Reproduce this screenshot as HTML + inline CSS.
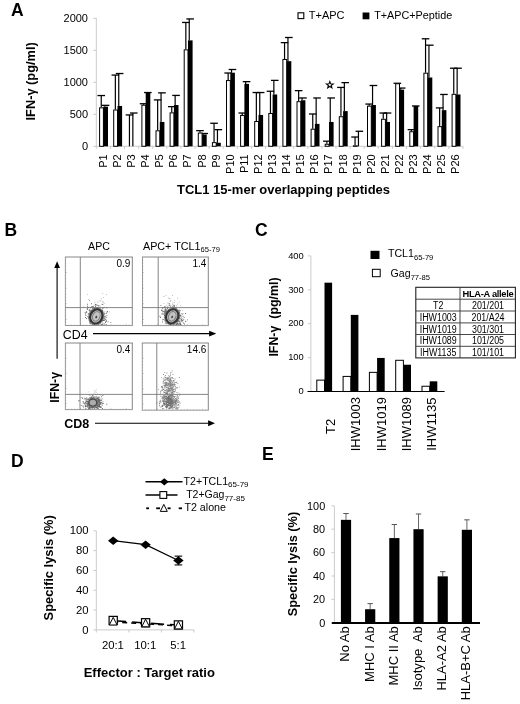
<!DOCTYPE html>
<html lang="en">
<head>
<meta charset="utf-8">
<title>Figure</title>
<style>
html,body{margin:0;padding:0;background:#fff;}
body{width:520px;height:704px;overflow:hidden;}
svg{display:block;font-family:'Liberation Sans', Arial, sans-serif;}
</style>
</head>
<body>
<svg width="520" height="704" viewBox="0 0 520 704" style="font-family:'Liberation Sans', Arial, sans-serif">
<rect x="0" y="0" width="520" height="704" fill="#fff"/>
<g id="panelA">
<text x="11.00" y="16.30" font-size="17.5" text-anchor="start" font-weight="bold" fill="#000">A</text>
<line x1="96.30" y1="18.00" x2="96.30" y2="146.30" stroke="#cbcbcb" stroke-width="1"/>
<line x1="93.30" y1="146.30" x2="96.30" y2="146.30" stroke="#cbcbcb" stroke-width="1"/>
<text x="88.00" y="150.20" font-size="11" text-anchor="end" fill="#000">0</text>
<line x1="93.30" y1="114.30" x2="96.30" y2="114.30" stroke="#cbcbcb" stroke-width="1"/>
<text x="88.00" y="118.20" font-size="11" text-anchor="end" fill="#000">500</text>
<line x1="93.30" y1="82.30" x2="96.30" y2="82.30" stroke="#cbcbcb" stroke-width="1"/>
<text x="88.00" y="86.20" font-size="11" text-anchor="end" fill="#000">1000</text>
<line x1="93.30" y1="50.30" x2="96.30" y2="50.30" stroke="#cbcbcb" stroke-width="1"/>
<text x="88.00" y="54.20" font-size="11" text-anchor="end" fill="#000">1500</text>
<line x1="93.30" y1="18.30" x2="96.30" y2="18.30" stroke="#cbcbcb" stroke-width="1"/>
<text x="88.00" y="22.20" font-size="11" text-anchor="end" fill="#000">2000</text>
<line x1="96.30" y1="146.30" x2="463.20" y2="146.30" stroke="#cbcbcb" stroke-width="1"/>
<line x1="96.30" y1="146.30" x2="96.30" y2="148.90" stroke="#cbcbcb" stroke-width="1"/>
<line x1="110.40" y1="146.30" x2="110.40" y2="148.90" stroke="#cbcbcb" stroke-width="1"/>
<line x1="124.50" y1="146.30" x2="124.50" y2="148.90" stroke="#cbcbcb" stroke-width="1"/>
<line x1="138.60" y1="146.30" x2="138.60" y2="148.90" stroke="#cbcbcb" stroke-width="1"/>
<line x1="152.70" y1="146.30" x2="152.70" y2="148.90" stroke="#cbcbcb" stroke-width="1"/>
<line x1="166.80" y1="146.30" x2="166.80" y2="148.90" stroke="#cbcbcb" stroke-width="1"/>
<line x1="180.90" y1="146.30" x2="180.90" y2="148.90" stroke="#cbcbcb" stroke-width="1"/>
<line x1="195.00" y1="146.30" x2="195.00" y2="148.90" stroke="#cbcbcb" stroke-width="1"/>
<line x1="209.10" y1="146.30" x2="209.10" y2="148.90" stroke="#cbcbcb" stroke-width="1"/>
<line x1="223.20" y1="146.30" x2="223.20" y2="148.90" stroke="#cbcbcb" stroke-width="1"/>
<line x1="237.30" y1="146.30" x2="237.30" y2="148.90" stroke="#cbcbcb" stroke-width="1"/>
<line x1="251.40" y1="146.30" x2="251.40" y2="148.90" stroke="#cbcbcb" stroke-width="1"/>
<line x1="265.50" y1="146.30" x2="265.50" y2="148.90" stroke="#cbcbcb" stroke-width="1"/>
<line x1="279.60" y1="146.30" x2="279.60" y2="148.90" stroke="#cbcbcb" stroke-width="1"/>
<line x1="293.70" y1="146.30" x2="293.70" y2="148.90" stroke="#cbcbcb" stroke-width="1"/>
<line x1="307.80" y1="146.30" x2="307.80" y2="148.90" stroke="#cbcbcb" stroke-width="1"/>
<line x1="321.90" y1="146.30" x2="321.90" y2="148.90" stroke="#cbcbcb" stroke-width="1"/>
<line x1="336.00" y1="146.30" x2="336.00" y2="148.90" stroke="#cbcbcb" stroke-width="1"/>
<line x1="350.10" y1="146.30" x2="350.10" y2="148.90" stroke="#cbcbcb" stroke-width="1"/>
<line x1="364.20" y1="146.30" x2="364.20" y2="148.90" stroke="#cbcbcb" stroke-width="1"/>
<line x1="378.30" y1="146.30" x2="378.30" y2="148.90" stroke="#cbcbcb" stroke-width="1"/>
<line x1="392.40" y1="146.30" x2="392.40" y2="148.90" stroke="#cbcbcb" stroke-width="1"/>
<line x1="406.50" y1="146.30" x2="406.50" y2="148.90" stroke="#cbcbcb" stroke-width="1"/>
<line x1="420.60" y1="146.30" x2="420.60" y2="148.90" stroke="#cbcbcb" stroke-width="1"/>
<line x1="434.70" y1="146.30" x2="434.70" y2="148.90" stroke="#cbcbcb" stroke-width="1"/>
<line x1="448.80" y1="146.30" x2="448.80" y2="148.90" stroke="#cbcbcb" stroke-width="1"/>
<line x1="462.90" y1="146.30" x2="462.90" y2="148.90" stroke="#cbcbcb" stroke-width="1"/>
<line x1="101.25" y1="95.55" x2="101.25" y2="107.32" stroke="#000" stroke-width="1.2"/>
<line x1="97.45" y1="95.55" x2="105.05" y2="95.55" stroke="#000" stroke-width="1.3"/>
<line x1="104.65" y1="105.34" x2="104.65" y2="106.62" stroke="#000" stroke-width="1.2"/>
<line x1="101.75" y1="105.34" x2="109.35" y2="105.34" stroke="#000" stroke-width="1.3"/>
<rect x="99.60" y="107.82" width="3.80" height="38.48" fill="#fff" stroke="#000" stroke-width="1"/>
<rect x="103.40" y="106.62" width="4.60" height="39.68" fill="#000"/>
<text x="106.90" y="154.30" font-size="11" text-anchor="end" transform="rotate(-90 106.90 154.30)" fill="#000">P1</text>
<line x1="115.35" y1="75.07" x2="115.35" y2="109.50" stroke="#000" stroke-width="1.2"/>
<line x1="111.55" y1="75.07" x2="119.15" y2="75.07" stroke="#000" stroke-width="1.3"/>
<line x1="118.75" y1="73.53" x2="118.75" y2="105.98" stroke="#000" stroke-width="1.2"/>
<line x1="115.85" y1="73.53" x2="123.45" y2="73.53" stroke="#000" stroke-width="1.3"/>
<rect x="113.70" y="110.00" width="3.80" height="36.30" fill="#fff" stroke="#000" stroke-width="1"/>
<rect x="117.50" y="105.98" width="4.60" height="40.32" fill="#000"/>
<text x="121.00" y="154.30" font-size="11" text-anchor="end" transform="rotate(-90 121.00 154.30)" fill="#000">P2</text>
<line x1="129.45" y1="114.94" x2="129.45" y2="146.30" stroke="#000" stroke-width="1.2"/>
<line x1="125.65" y1="114.94" x2="133.25" y2="114.94" stroke="#000" stroke-width="1.3"/>
<line x1="132.85" y1="113.02" x2="132.85" y2="146.30" stroke="#000" stroke-width="1.2"/>
<line x1="129.95" y1="113.02" x2="137.55" y2="113.02" stroke="#000" stroke-width="1.3"/>
<text x="135.10" y="154.30" font-size="11" text-anchor="end" transform="rotate(-90 135.10 154.30)" fill="#000">P3</text>
<line x1="143.55" y1="103.74" x2="143.55" y2="104.70" stroke="#000" stroke-width="1.2"/>
<line x1="139.75" y1="103.74" x2="147.35" y2="103.74" stroke="#000" stroke-width="1.3"/>
<line x1="144.05" y1="92.54" x2="151.65" y2="92.54" stroke="#000" stroke-width="1.3"/>
<rect x="141.90" y="105.20" width="3.80" height="41.10" fill="#fff" stroke="#000" stroke-width="1"/>
<rect x="145.70" y="92.54" width="4.60" height="53.76" fill="#000"/>
<text x="149.20" y="154.30" font-size="11" text-anchor="end" transform="rotate(-90 149.20 154.30)" fill="#000">P4</text>
<line x1="157.65" y1="99.90" x2="157.65" y2="130.30" stroke="#000" stroke-width="1.2"/>
<line x1="153.85" y1="99.90" x2="161.45" y2="99.90" stroke="#000" stroke-width="1.3"/>
<line x1="161.05" y1="92.86" x2="161.05" y2="121.98" stroke="#000" stroke-width="1.2"/>
<line x1="158.15" y1="92.86" x2="165.75" y2="92.86" stroke="#000" stroke-width="1.3"/>
<rect x="156.00" y="130.80" width="3.80" height="15.50" fill="#fff" stroke="#000" stroke-width="1"/>
<rect x="159.80" y="121.98" width="4.60" height="24.32" fill="#000"/>
<text x="163.30" y="154.30" font-size="11" text-anchor="end" transform="rotate(-90 163.30 154.30)" fill="#000">P5</text>
<line x1="171.75" y1="106.62" x2="171.75" y2="112.38" stroke="#000" stroke-width="1.2"/>
<line x1="167.95" y1="106.62" x2="175.55" y2="106.62" stroke="#000" stroke-width="1.3"/>
<line x1="175.15" y1="95.42" x2="175.15" y2="105.02" stroke="#000" stroke-width="1.2"/>
<line x1="172.25" y1="95.42" x2="179.85" y2="95.42" stroke="#000" stroke-width="1.3"/>
<rect x="170.10" y="112.88" width="3.80" height="33.42" fill="#fff" stroke="#000" stroke-width="1"/>
<rect x="173.90" y="105.02" width="4.60" height="41.28" fill="#000"/>
<text x="177.40" y="154.30" font-size="11" text-anchor="end" transform="rotate(-90 177.40 154.30)" fill="#000">P6</text>
<line x1="185.85" y1="22.46" x2="185.85" y2="49.34" stroke="#000" stroke-width="1.2"/>
<line x1="182.05" y1="22.46" x2="189.65" y2="22.46" stroke="#000" stroke-width="1.3"/>
<line x1="189.25" y1="18.94" x2="189.25" y2="40.38" stroke="#000" stroke-width="1.2"/>
<line x1="186.35" y1="18.94" x2="193.95" y2="18.94" stroke="#000" stroke-width="1.3"/>
<rect x="184.20" y="49.84" width="3.80" height="96.46" fill="#fff" stroke="#000" stroke-width="1"/>
<rect x="188.00" y="40.38" width="4.60" height="105.92" fill="#000"/>
<text x="191.50" y="154.30" font-size="11" text-anchor="end" transform="rotate(-90 191.50 154.30)" fill="#000">P7</text>
<line x1="199.95" y1="130.62" x2="199.95" y2="132.54" stroke="#000" stroke-width="1.2"/>
<line x1="196.15" y1="130.62" x2="203.75" y2="130.62" stroke="#000" stroke-width="1.3"/>
<line x1="203.35" y1="133.50" x2="203.35" y2="134.46" stroke="#000" stroke-width="1.2"/>
<line x1="200.45" y1="133.50" x2="208.05" y2="133.50" stroke="#000" stroke-width="1.3"/>
<rect x="198.30" y="133.04" width="3.80" height="13.26" fill="#fff" stroke="#000" stroke-width="1"/>
<rect x="202.10" y="134.46" width="4.60" height="11.84" fill="#000"/>
<text x="205.60" y="154.30" font-size="11" text-anchor="end" transform="rotate(-90 205.60 154.30)" fill="#000">P8</text>
<line x1="214.05" y1="123.26" x2="214.05" y2="142.14" stroke="#000" stroke-width="1.2"/>
<line x1="210.25" y1="123.26" x2="217.85" y2="123.26" stroke="#000" stroke-width="1.3"/>
<line x1="217.45" y1="129.66" x2="217.45" y2="142.78" stroke="#000" stroke-width="1.2"/>
<line x1="214.55" y1="129.66" x2="222.15" y2="129.66" stroke="#000" stroke-width="1.3"/>
<rect x="212.40" y="142.64" width="3.80" height="3.66" fill="#fff" stroke="#000" stroke-width="1"/>
<rect x="216.20" y="142.78" width="4.60" height="3.52" fill="#000"/>
<text x="219.70" y="154.30" font-size="11" text-anchor="end" transform="rotate(-90 219.70 154.30)" fill="#000">P9</text>
<line x1="228.15" y1="73.02" x2="228.15" y2="80.06" stroke="#000" stroke-width="1.2"/>
<line x1="224.35" y1="73.02" x2="231.95" y2="73.02" stroke="#000" stroke-width="1.3"/>
<line x1="231.55" y1="69.50" x2="231.55" y2="72.70" stroke="#000" stroke-width="1.2"/>
<line x1="228.65" y1="69.50" x2="236.25" y2="69.50" stroke="#000" stroke-width="1.3"/>
<rect x="226.50" y="80.56" width="3.80" height="65.74" fill="#fff" stroke="#000" stroke-width="1"/>
<rect x="230.30" y="72.70" width="4.60" height="73.60" fill="#000"/>
<text x="233.80" y="154.30" font-size="11" text-anchor="end" transform="rotate(-90 233.80 154.30)" fill="#000">P10</text>
<line x1="242.25" y1="113.02" x2="242.25" y2="114.94" stroke="#000" stroke-width="1.2"/>
<line x1="238.45" y1="113.02" x2="246.05" y2="113.02" stroke="#000" stroke-width="1.3"/>
<line x1="245.65" y1="81.66" x2="245.65" y2="83.90" stroke="#000" stroke-width="1.2"/>
<line x1="242.75" y1="81.66" x2="250.35" y2="81.66" stroke="#000" stroke-width="1.3"/>
<rect x="240.60" y="115.44" width="3.80" height="30.86" fill="#fff" stroke="#000" stroke-width="1"/>
<rect x="244.40" y="83.90" width="4.60" height="62.40" fill="#000"/>
<text x="247.90" y="154.30" font-size="11" text-anchor="end" transform="rotate(-90 247.90 154.30)" fill="#000">P11</text>
<line x1="256.35" y1="92.54" x2="256.35" y2="121.02" stroke="#000" stroke-width="1.2"/>
<line x1="252.55" y1="92.54" x2="260.15" y2="92.54" stroke="#000" stroke-width="1.3"/>
<line x1="259.75" y1="92.54" x2="259.75" y2="114.94" stroke="#000" stroke-width="1.2"/>
<line x1="256.85" y1="92.54" x2="264.45" y2="92.54" stroke="#000" stroke-width="1.3"/>
<rect x="254.70" y="121.52" width="3.80" height="24.78" fill="#fff" stroke="#000" stroke-width="1"/>
<rect x="258.50" y="114.94" width="4.60" height="31.36" fill="#000"/>
<text x="262.00" y="154.30" font-size="11" text-anchor="end" transform="rotate(-90 262.00 154.30)" fill="#000">P12</text>
<line x1="270.45" y1="91.26" x2="270.45" y2="113.02" stroke="#000" stroke-width="1.2"/>
<line x1="266.65" y1="91.26" x2="274.25" y2="91.26" stroke="#000" stroke-width="1.3"/>
<line x1="273.85" y1="80.38" x2="273.85" y2="94.46" stroke="#000" stroke-width="1.2"/>
<line x1="270.95" y1="80.38" x2="278.55" y2="80.38" stroke="#000" stroke-width="1.3"/>
<rect x="268.80" y="113.52" width="3.80" height="32.78" fill="#fff" stroke="#000" stroke-width="1"/>
<rect x="272.60" y="94.46" width="4.60" height="51.84" fill="#000"/>
<text x="276.10" y="154.30" font-size="11" text-anchor="end" transform="rotate(-90 276.10 154.30)" fill="#000">P13</text>
<line x1="284.55" y1="42.62" x2="284.55" y2="58.94" stroke="#000" stroke-width="1.2"/>
<line x1="280.75" y1="42.62" x2="288.35" y2="42.62" stroke="#000" stroke-width="1.3"/>
<line x1="287.95" y1="37.50" x2="287.95" y2="61.18" stroke="#000" stroke-width="1.2"/>
<line x1="285.05" y1="37.50" x2="292.65" y2="37.50" stroke="#000" stroke-width="1.3"/>
<rect x="282.90" y="59.44" width="3.80" height="86.86" fill="#fff" stroke="#000" stroke-width="1"/>
<rect x="286.70" y="61.18" width="4.60" height="85.12" fill="#000"/>
<text x="290.20" y="154.30" font-size="11" text-anchor="end" transform="rotate(-90 290.20 154.30)" fill="#000">P14</text>
<line x1="298.65" y1="90.62" x2="298.65" y2="101.18" stroke="#000" stroke-width="1.2"/>
<line x1="294.85" y1="90.62" x2="302.45" y2="90.62" stroke="#000" stroke-width="1.3"/>
<line x1="302.05" y1="97.98" x2="302.05" y2="100.22" stroke="#000" stroke-width="1.2"/>
<line x1="299.15" y1="97.98" x2="306.75" y2="97.98" stroke="#000" stroke-width="1.3"/>
<rect x="297.00" y="101.68" width="3.80" height="44.62" fill="#fff" stroke="#000" stroke-width="1"/>
<rect x="300.80" y="100.22" width="4.60" height="46.08" fill="#000"/>
<text x="304.30" y="154.30" font-size="11" text-anchor="end" transform="rotate(-90 304.30 154.30)" fill="#000">P15</text>
<line x1="312.75" y1="113.98" x2="312.75" y2="128.70" stroke="#000" stroke-width="1.2"/>
<line x1="308.95" y1="113.98" x2="316.55" y2="113.98" stroke="#000" stroke-width="1.3"/>
<line x1="316.15" y1="97.98" x2="316.15" y2="123.90" stroke="#000" stroke-width="1.2"/>
<line x1="313.25" y1="97.98" x2="320.85" y2="97.98" stroke="#000" stroke-width="1.3"/>
<rect x="311.10" y="129.20" width="3.80" height="17.10" fill="#fff" stroke="#000" stroke-width="1"/>
<rect x="314.90" y="123.90" width="4.60" height="22.40" fill="#000"/>
<text x="318.40" y="154.30" font-size="11" text-anchor="end" transform="rotate(-90 318.40 154.30)" fill="#000">P16</text>
<line x1="326.85" y1="141.18" x2="326.85" y2="143.74" stroke="#000" stroke-width="1.2"/>
<line x1="323.05" y1="141.18" x2="330.65" y2="141.18" stroke="#000" stroke-width="1.3"/>
<line x1="330.25" y1="97.98" x2="330.25" y2="121.98" stroke="#000" stroke-width="1.2"/>
<line x1="327.35" y1="97.98" x2="334.95" y2="97.98" stroke="#000" stroke-width="1.3"/>
<rect x="325.20" y="144.24" width="3.80" height="2.06" fill="#fff" stroke="#000" stroke-width="1"/>
<rect x="329.00" y="121.98" width="4.60" height="24.32" fill="#000"/>
<text x="332.50" y="154.30" font-size="11" text-anchor="end" transform="rotate(-90 332.50 154.30)" fill="#000">P17</text>
<line x1="340.95" y1="87.42" x2="340.95" y2="116.22" stroke="#000" stroke-width="1.2"/>
<line x1="337.15" y1="87.42" x2="344.75" y2="87.42" stroke="#000" stroke-width="1.3"/>
<line x1="344.35" y1="82.62" x2="344.35" y2="111.10" stroke="#000" stroke-width="1.2"/>
<line x1="341.45" y1="82.62" x2="349.05" y2="82.62" stroke="#000" stroke-width="1.3"/>
<rect x="339.30" y="116.72" width="3.80" height="29.58" fill="#fff" stroke="#000" stroke-width="1"/>
<rect x="343.10" y="111.10" width="4.60" height="35.20" fill="#000"/>
<text x="346.60" y="154.30" font-size="11" text-anchor="end" transform="rotate(-90 346.60 154.30)" fill="#000">P18</text>
<line x1="355.05" y1="137.02" x2="355.05" y2="145.34" stroke="#000" stroke-width="1.2"/>
<line x1="351.25" y1="137.02" x2="358.85" y2="137.02" stroke="#000" stroke-width="1.3"/>
<line x1="358.45" y1="131.26" x2="358.45" y2="146.30" stroke="#000" stroke-width="1.2"/>
<line x1="355.55" y1="131.26" x2="363.15" y2="131.26" stroke="#000" stroke-width="1.3"/>
<rect x="353.40" y="145.84" width="3.80" height="0.46" fill="#fff" stroke="#000" stroke-width="1"/>
<text x="360.70" y="154.30" font-size="11" text-anchor="end" transform="rotate(-90 360.70 154.30)" fill="#000">P19</text>
<line x1="369.15" y1="104.06" x2="369.15" y2="105.66" stroke="#000" stroke-width="1.2"/>
<line x1="365.35" y1="104.06" x2="372.95" y2="104.06" stroke="#000" stroke-width="1.3"/>
<line x1="372.55" y1="85.50" x2="372.55" y2="105.02" stroke="#000" stroke-width="1.2"/>
<line x1="369.65" y1="85.50" x2="377.25" y2="85.50" stroke="#000" stroke-width="1.3"/>
<rect x="367.50" y="106.16" width="3.80" height="40.14" fill="#fff" stroke="#000" stroke-width="1"/>
<rect x="371.30" y="105.02" width="4.60" height="41.28" fill="#000"/>
<text x="374.80" y="154.30" font-size="11" text-anchor="end" transform="rotate(-90 374.80 154.30)" fill="#000">P20</text>
<line x1="383.25" y1="113.02" x2="383.25" y2="118.78" stroke="#000" stroke-width="1.2"/>
<line x1="379.45" y1="113.02" x2="387.05" y2="113.02" stroke="#000" stroke-width="1.3"/>
<line x1="386.65" y1="113.02" x2="386.65" y2="121.98" stroke="#000" stroke-width="1.2"/>
<line x1="383.75" y1="113.02" x2="391.35" y2="113.02" stroke="#000" stroke-width="1.3"/>
<rect x="381.60" y="119.28" width="3.80" height="27.02" fill="#fff" stroke="#000" stroke-width="1"/>
<rect x="385.40" y="121.98" width="4.60" height="24.32" fill="#000"/>
<text x="388.90" y="154.30" font-size="11" text-anchor="end" transform="rotate(-90 388.90 154.30)" fill="#000">P21</text>
<line x1="393.55" y1="83.26" x2="401.15" y2="83.26" stroke="#000" stroke-width="1.3"/>
<line x1="400.75" y1="88.06" x2="400.75" y2="89.66" stroke="#000" stroke-width="1.2"/>
<line x1="397.85" y1="88.06" x2="405.45" y2="88.06" stroke="#000" stroke-width="1.3"/>
<rect x="395.70" y="83.76" width="3.80" height="62.54" fill="#fff" stroke="#000" stroke-width="1"/>
<rect x="399.50" y="89.66" width="4.60" height="56.64" fill="#000"/>
<text x="403.00" y="154.30" font-size="11" text-anchor="end" transform="rotate(-90 403.00 154.30)" fill="#000">P22</text>
<line x1="411.45" y1="129.66" x2="411.45" y2="131.26" stroke="#000" stroke-width="1.2"/>
<line x1="407.65" y1="129.66" x2="415.25" y2="129.66" stroke="#000" stroke-width="1.3"/>
<line x1="411.95" y1="105.98" x2="419.55" y2="105.98" stroke="#000" stroke-width="1.3"/>
<rect x="409.80" y="131.76" width="3.80" height="14.54" fill="#fff" stroke="#000" stroke-width="1"/>
<rect x="413.60" y="105.98" width="4.60" height="40.32" fill="#000"/>
<text x="417.10" y="154.30" font-size="11" text-anchor="end" transform="rotate(-90 417.10 154.30)" fill="#000">P23</text>
<line x1="425.55" y1="38.78" x2="425.55" y2="72.70" stroke="#000" stroke-width="1.2"/>
<line x1="421.75" y1="38.78" x2="429.35" y2="38.78" stroke="#000" stroke-width="1.3"/>
<line x1="428.95" y1="45.18" x2="428.95" y2="77.50" stroke="#000" stroke-width="1.2"/>
<line x1="426.05" y1="45.18" x2="433.65" y2="45.18" stroke="#000" stroke-width="1.3"/>
<rect x="423.90" y="73.20" width="3.80" height="73.10" fill="#fff" stroke="#000" stroke-width="1"/>
<rect x="427.70" y="77.50" width="4.60" height="68.80" fill="#000"/>
<text x="431.20" y="154.30" font-size="11" text-anchor="end" transform="rotate(-90 431.20 154.30)" fill="#000">P24</text>
<line x1="439.65" y1="107.90" x2="439.65" y2="126.14" stroke="#000" stroke-width="1.2"/>
<line x1="435.85" y1="107.90" x2="443.45" y2="107.90" stroke="#000" stroke-width="1.3"/>
<line x1="443.05" y1="94.46" x2="443.05" y2="110.14" stroke="#000" stroke-width="1.2"/>
<line x1="440.15" y1="94.46" x2="447.75" y2="94.46" stroke="#000" stroke-width="1.3"/>
<rect x="438.00" y="126.64" width="3.80" height="19.66" fill="#fff" stroke="#000" stroke-width="1"/>
<rect x="441.80" y="110.14" width="4.60" height="36.16" fill="#000"/>
<text x="445.30" y="154.30" font-size="11" text-anchor="end" transform="rotate(-90 445.30 154.30)" fill="#000">P25</text>
<line x1="453.75" y1="68.22" x2="453.75" y2="93.82" stroke="#000" stroke-width="1.2"/>
<line x1="449.95" y1="68.22" x2="457.55" y2="68.22" stroke="#000" stroke-width="1.3"/>
<line x1="457.15" y1="68.22" x2="457.15" y2="94.46" stroke="#000" stroke-width="1.2"/>
<line x1="454.25" y1="68.22" x2="461.85" y2="68.22" stroke="#000" stroke-width="1.3"/>
<rect x="452.10" y="94.32" width="3.80" height="51.98" fill="#fff" stroke="#000" stroke-width="1"/>
<rect x="455.90" y="94.46" width="4.60" height="51.84" fill="#000"/>
<text x="459.40" y="154.30" font-size="11" text-anchor="end" transform="rotate(-90 459.40 154.30)" fill="#000">P26</text>
<polygon points="329.80,81.50 330.65,83.83 333.13,83.92 331.18,85.45 331.86,87.83 329.80,86.45 327.74,87.83 328.42,85.45 326.47,83.92 328.95,83.83" fill="#fff" stroke="#000" stroke-width="1.1" stroke-linejoin="miter"/>
<text x="35.40" y="81.40" font-size="12.8" text-anchor="middle" font-weight="bold" transform="rotate(-90 35.40 81.40)" fill="#000">IFN-&#947; (pg/ml)</text>
<text x="283.50" y="194.00" font-size="13" text-anchor="middle" font-weight="bold" fill="#000">TCL1 15-mer overlapping peptides</text>
<rect x="298.00" y="12.80" width="5.80" height="5.80" fill="#fff" stroke="#000" stroke-width="1.1"/>
<text x="308.80" y="19.30" font-size="11" text-anchor="start" fill="#000">T+APC</text>
<rect x="362.60" y="12.50" width="6.80" height="6.80" fill="#000"/>
<text x="374.20" y="19.30" font-size="10.8" text-anchor="start" fill="#000">T+APC+Peptide</text>
</g>
<g id="panelB">
<text x="4.50" y="236.00" font-size="17.5" text-anchor="start" font-weight="bold" fill="#000">B</text>
<text x="99.00" y="249.80" font-size="10.6" text-anchor="middle" fill="#000">APC</text>
<text x="143" y="249.8" font-size="10.75">APC+ TCL1<tspan font-size="7.6" dy="2.6">65-79</tspan></text>
<path d="M95.5 312.5h0.8v0.8h-0.8zM95.7 307.5h0.8v0.8h-0.8zM92.1 308.1h0.8v0.8h-0.8zM102.4 311.9h0.8v0.8h-0.8zM102.0 310.9h0.8v0.8h-0.8zM98.8 310.5h0.8v0.8h-0.8zM88.5 314.5h0.8v0.8h-0.8zM99.3 312.4h0.8v0.8h-0.8zM88.3 298.9h0.8v0.8h-0.8zM92.4 306.6h0.8v0.8h-0.8zM98.3 309.1h0.8v0.8h-0.8zM99.4 305.5h0.8v0.8h-0.8zM98.3 311.8h0.8v0.8h-0.8zM93.5 319.7h0.8v0.8h-0.8zM99.6 316.6h0.8v0.8h-0.8zM93.7 305.0h0.8v0.8h-0.8zM95.1 308.8h0.8v0.8h-0.8zM100.0 310.9h0.8v0.8h-0.8zM94.6 303.7h0.8v0.8h-0.8zM94.2 316.7h0.8v0.8h-0.8zM92.8 310.9h0.8v0.8h-0.8zM98.9 300.5h0.8v0.8h-0.8zM97.0 317.2h0.8v0.8h-0.8zM86.7 307.5h0.8v0.8h-0.8zM96.3 304.5h0.8v0.8h-0.8zM99.3 309.0h0.8v0.8h-0.8zM89.5 314.4h0.8v0.8h-0.8zM100.1 315.1h0.8v0.8h-0.8zM104.0 311.6h0.8v0.8h-0.8zM97.4 301.6h0.8v0.8h-0.8zM99.9 305.7h0.8v0.8h-0.8zM94.5 301.8h0.8v0.8h-0.8zM92.0 306.2h0.8v0.8h-0.8zM103.2 297.2h0.8v0.8h-0.8zM89.5 310.8h0.8v0.8h-0.8zM104.0 312.9h0.8v0.8h-0.8zM87.3 294.3h0.8v0.8h-0.8zM98.6 305.0h0.8v0.8h-0.8zM91.2 315.3h0.8v0.8h-0.8zM102.3 310.3h0.8v0.8h-0.8zM98.0 312.0h0.8v0.8h-0.8zM104.8 313.1h0.8v0.8h-0.8zM99.4 312.7h0.8v0.8h-0.8zM89.0 317.1h0.8v0.8h-0.8zM101.6 312.6h0.8v0.8h-0.8zM86.9 305.6h0.8v0.8h-0.8zM101.0 298.5h0.8v0.8h-0.8zM95.9 315.5h0.8v0.8h-0.8zM90.2 319.1h0.8v0.8h-0.8zM99.6 308.5h0.8v0.8h-0.8zM98.4 313.3h0.8v0.8h-0.8zM97.4 316.3h0.8v0.8h-0.8zM93.5 306.9h0.8v0.8h-0.8zM102.0 309.6h0.8v0.8h-0.8zM92.4 315.1h0.8v0.8h-0.8zM104.1 306.7h0.8v0.8h-0.8zM89.9 308.6h0.8v0.8h-0.8zM96.1 307.6h0.8v0.8h-0.8zM103.8 303.2h0.8v0.8h-0.8zM103.1 301.8h0.8v0.8h-0.8zM92.9 313.2h0.8v0.8h-0.8zM102.4 314.6h0.8v0.8h-0.8zM98.5 310.3h0.8v0.8h-0.8zM97.6 312.9h0.8v0.8h-0.8zM95.9 311.1h0.8v0.8h-0.8zM99.7 309.4h0.8v0.8h-0.8zM100.6 312.8h0.8v0.8h-0.8zM106.9 311.3h0.8v0.8h-0.8zM94.7 307.2h0.8v0.8h-0.8zM96.7 314.9h0.8v0.8h-0.8zM95.1 311.7h0.8v0.8h-0.8zM106.0 294.0h0.8v0.8h-0.8zM91.2 310.9h0.8v0.8h-0.8zM98.8 310.8h0.8v0.8h-0.8zM94.6 313.3h0.8v0.8h-0.8zM98.2 306.3h0.8v0.8h-0.8zM109.0 311.5h0.8v0.8h-0.8zM94.0 308.8h0.8v0.8h-0.8zM95.7 309.0h0.8v0.8h-0.8zM83.2 306.5h0.8v0.8h-0.8zM101.8 302.4h0.8v0.8h-0.8zM96.5 315.1h0.8v0.8h-0.8zM101.1 318.3h0.8v0.8h-0.8zM88.3 307.3h0.8v0.8h-0.8zM95.1 313.1h0.8v0.8h-0.8zM102.3 293.3h0.8v0.8h-0.8zM102.2 300.7h0.8v0.8h-0.8zM100.2 300.4h0.8v0.8h-0.8zM97.7 316.6h0.8v0.8h-0.8zM96.1 310.5h0.8v0.8h-0.8z" fill="#8a8a8a" fill-opacity="0.8"/>
<path d="M100.2 317.1h0.9v0.9h-0.9zM98.3 323.8h0.9v0.9h-0.9zM100.7 315.0h0.9v0.9h-0.9zM107.1 310.9h0.9v0.9h-0.9zM100.1 315.1h0.9v0.9h-0.9zM98.0 319.8h0.9v0.9h-0.9zM98.3 319.5h0.9v0.9h-0.9zM86.9 309.2h0.9v0.9h-0.9zM97.6 311.8h0.9v0.9h-0.9zM89.2 309.3h0.9v0.9h-0.9zM103.3 320.0h0.9v0.9h-0.9zM101.6 311.9h0.9v0.9h-0.9zM94.5 310.9h0.9v0.9h-0.9zM102.4 324.0h0.9v0.9h-0.9zM94.7 323.9h0.9v0.9h-0.9zM100.6 315.5h0.9v0.9h-0.9zM89.5 323.2h0.9v0.9h-0.9zM94.9 313.5h0.9v0.9h-0.9zM98.8 318.4h0.9v0.9h-0.9zM101.6 311.5h0.9v0.9h-0.9zM103.9 323.5h0.9v0.9h-0.9zM102.7 315.5h0.9v0.9h-0.9zM94.5 321.3h0.9v0.9h-0.9zM97.0 317.0h0.9v0.9h-0.9zM102.4 315.1h0.9v0.9h-0.9zM85.1 314.5h0.9v0.9h-0.9zM89.1 320.3h0.9v0.9h-0.9zM96.8 313.5h0.9v0.9h-0.9zM97.6 320.4h0.9v0.9h-0.9zM98.8 322.8h0.9v0.9h-0.9zM97.7 321.4h0.9v0.9h-0.9zM105.7 324.1h0.9v0.9h-0.9zM94.6 320.6h0.9v0.9h-0.9zM85.9 311.2h0.9v0.9h-0.9zM89.0 321.5h0.9v0.9h-0.9zM90.6 316.3h0.9v0.9h-0.9zM95.4 316.3h0.9v0.9h-0.9zM94.0 317.5h0.9v0.9h-0.9zM104.6 316.6h0.9v0.9h-0.9zM100.3 321.2h0.9v0.9h-0.9zM93.4 310.4h0.9v0.9h-0.9zM95.5 321.6h0.9v0.9h-0.9zM87.8 313.5h0.9v0.9h-0.9zM102.2 320.2h0.9v0.9h-0.9zM97.6 320.3h0.9v0.9h-0.9zM95.2 310.7h0.9v0.9h-0.9zM88.1 313.3h0.9v0.9h-0.9zM99.6 313.7h0.9v0.9h-0.9zM90.9 312.7h0.9v0.9h-0.9zM89.1 315.8h0.9v0.9h-0.9zM91.5 318.1h0.9v0.9h-0.9zM86.0 318.0h0.9v0.9h-0.9zM90.2 307.1h0.9v0.9h-0.9zM99.2 315.1h0.9v0.9h-0.9zM84.6 312.2h0.9v0.9h-0.9zM96.9 314.2h0.9v0.9h-0.9zM101.1 320.0h0.9v0.9h-0.9zM99.9 318.0h0.9v0.9h-0.9zM103.5 319.6h0.9v0.9h-0.9zM95.0 306.4h0.9v0.9h-0.9zM102.5 322.7h0.9v0.9h-0.9zM94.2 314.1h0.9v0.9h-0.9zM102.4 308.0h0.9v0.9h-0.9zM93.1 319.7h0.9v0.9h-0.9zM104.8 315.8h0.9v0.9h-0.9zM100.3 320.7h0.9v0.9h-0.9zM92.0 316.0h0.9v0.9h-0.9zM99.0 320.4h0.9v0.9h-0.9zM95.8 315.5h0.9v0.9h-0.9zM91.1 314.7h0.9v0.9h-0.9zM100.6 316.9h0.9v0.9h-0.9zM91.0 312.4h0.9v0.9h-0.9zM110.4 321.9h0.9v0.9h-0.9zM95.1 304.0h0.9v0.9h-0.9zM99.9 318.7h0.9v0.9h-0.9zM104.7 318.5h0.9v0.9h-0.9zM96.8 318.9h0.9v0.9h-0.9zM89.0 321.4h0.9v0.9h-0.9zM96.7 313.0h0.9v0.9h-0.9zM88.8 313.2h0.9v0.9h-0.9zM97.9 317.3h0.9v0.9h-0.9zM92.9 311.7h0.9v0.9h-0.9zM107.7 321.4h0.9v0.9h-0.9zM88.7 309.9h0.9v0.9h-0.9zM105.7 321.1h0.9v0.9h-0.9zM106.0 320.3h0.9v0.9h-0.9zM92.7 317.7h0.9v0.9h-0.9zM85.2 312.8h0.9v0.9h-0.9zM96.9 318.9h0.9v0.9h-0.9zM92.8 315.8h0.9v0.9h-0.9zM99.0 318.2h0.9v0.9h-0.9zM99.6 317.4h0.9v0.9h-0.9zM96.1 320.2h0.9v0.9h-0.9zM95.2 312.4h0.9v0.9h-0.9zM93.4 316.4h0.9v0.9h-0.9zM96.0 317.2h0.9v0.9h-0.9zM96.6 317.2h0.9v0.9h-0.9zM93.7 310.4h0.9v0.9h-0.9zM99.9 321.5h0.9v0.9h-0.9zM98.0 315.5h0.9v0.9h-0.9zM96.8 311.8h0.9v0.9h-0.9zM87.7 316.7h0.9v0.9h-0.9zM93.2 320.0h0.9v0.9h-0.9zM87.1 303.8h0.9v0.9h-0.9zM94.0 324.0h0.9v0.9h-0.9zM92.4 309.8h0.9v0.9h-0.9zM93.6 318.9h0.9v0.9h-0.9zM98.9 317.2h0.9v0.9h-0.9zM104.3 319.8h0.9v0.9h-0.9zM97.2 319.3h0.9v0.9h-0.9zM105.5 321.1h0.9v0.9h-0.9zM99.3 311.2h0.9v0.9h-0.9zM96.8 319.9h0.9v0.9h-0.9zM96.6 321.5h0.9v0.9h-0.9zM100.5 320.8h0.9v0.9h-0.9zM101.7 315.4h0.9v0.9h-0.9zM96.1 320.6h0.9v0.9h-0.9zM100.8 316.4h0.9v0.9h-0.9zM91.2 317.3h0.9v0.9h-0.9zM99.8 321.8h0.9v0.9h-0.9zM99.9 316.5h0.9v0.9h-0.9zM101.1 319.0h0.9v0.9h-0.9zM97.3 316.7h0.9v0.9h-0.9zM96.3 319.7h0.9v0.9h-0.9zM90.4 313.4h0.9v0.9h-0.9zM94.0 309.4h0.9v0.9h-0.9zM91.1 306.8h0.9v0.9h-0.9zM94.1 319.1h0.9v0.9h-0.9zM98.8 316.1h0.9v0.9h-0.9zM93.0 309.6h0.9v0.9h-0.9zM105.5 318.9h0.9v0.9h-0.9zM99.9 312.2h0.9v0.9h-0.9zM92.5 307.7h0.9v0.9h-0.9zM101.4 320.9h0.9v0.9h-0.9zM87.5 316.1h0.9v0.9h-0.9zM96.4 307.9h0.9v0.9h-0.9zM86.2 311.3h0.9v0.9h-0.9zM91.2 309.7h0.9v0.9h-0.9zM96.8 317.6h0.9v0.9h-0.9zM100.3 319.8h0.9v0.9h-0.9zM105.1 322.0h0.9v0.9h-0.9zM89.5 314.0h0.9v0.9h-0.9zM89.7 311.2h0.9v0.9h-0.9zM95.9 316.4h0.9v0.9h-0.9zM96.0 308.8h0.9v0.9h-0.9zM90.6 316.3h0.9v0.9h-0.9zM94.9 314.9h0.9v0.9h-0.9zM94.8 312.8h0.9v0.9h-0.9zM100.1 318.1h0.9v0.9h-0.9zM94.8 313.2h0.9v0.9h-0.9zM91.1 303.3h0.9v0.9h-0.9zM91.8 316.6h0.9v0.9h-0.9zM89.7 317.4h0.9v0.9h-0.9zM94.8 309.8h0.9v0.9h-0.9zM94.6 314.9h0.9v0.9h-0.9zM99.4 319.3h0.9v0.9h-0.9zM94.8 312.3h0.9v0.9h-0.9zM95.5 316.1h0.9v0.9h-0.9zM100.1 317.8h0.9v0.9h-0.9zM90.8 309.9h0.9v0.9h-0.9zM93.4 312.8h0.9v0.9h-0.9zM91.0 315.8h0.9v0.9h-0.9zM94.2 316.9h0.9v0.9h-0.9zM98.0 314.4h0.9v0.9h-0.9zM106.5 314.9h0.9v0.9h-0.9zM101.6 317.0h0.9v0.9h-0.9zM97.6 305.0h0.9v0.9h-0.9zM93.2 317.6h0.9v0.9h-0.9zM99.8 322.5h0.9v0.9h-0.9zM101.3 320.9h0.9v0.9h-0.9zM98.4 315.7h0.9v0.9h-0.9zM96.9 311.2h0.9v0.9h-0.9zM100.1 311.5h0.9v0.9h-0.9zM95.3 316.5h0.9v0.9h-0.9zM101.7 316.5h0.9v0.9h-0.9zM93.0 317.6h0.9v0.9h-0.9zM100.1 319.8h0.9v0.9h-0.9zM104.0 316.5h0.9v0.9h-0.9zM96.8 314.3h0.9v0.9h-0.9zM101.7 313.0h0.9v0.9h-0.9zM98.6 314.1h0.9v0.9h-0.9zM94.3 319.8h0.9v0.9h-0.9zM102.4 316.4h0.9v0.9h-0.9zM94.5 320.3h0.9v0.9h-0.9zM96.6 317.9h0.9v0.9h-0.9zM105.1 321.8h0.9v0.9h-0.9zM97.6 320.2h0.9v0.9h-0.9zM93.3 316.2h0.9v0.9h-0.9zM100.6 310.6h0.9v0.9h-0.9zM86.8 308.6h0.9v0.9h-0.9zM101.0 314.2h0.9v0.9h-0.9zM95.5 314.9h0.9v0.9h-0.9zM94.0 311.2h0.9v0.9h-0.9zM94.1 309.5h0.9v0.9h-0.9zM96.5 317.9h0.9v0.9h-0.9zM98.1 315.3h0.9v0.9h-0.9zM92.4 317.2h0.9v0.9h-0.9zM96.6 323.9h0.9v0.9h-0.9zM99.6 315.8h0.9v0.9h-0.9zM93.0 313.0h0.9v0.9h-0.9zM91.4 314.7h0.9v0.9h-0.9zM98.5 318.9h0.9v0.9h-0.9zM93.1 316.5h0.9v0.9h-0.9zM106.2 307.4h0.9v0.9h-0.9zM94.2 317.2h0.9v0.9h-0.9zM97.7 318.4h0.9v0.9h-0.9zM95.8 318.2h0.9v0.9h-0.9zM97.8 320.1h0.9v0.9h-0.9zM86.2 312.2h0.9v0.9h-0.9zM94.6 311.4h0.9v0.9h-0.9zM92.5 319.4h0.9v0.9h-0.9zM94.3 319.4h0.9v0.9h-0.9zM100.2 317.9h0.9v0.9h-0.9zM98.5 315.9h0.9v0.9h-0.9zM89.8 316.3h0.9v0.9h-0.9zM97.5 313.9h0.9v0.9h-0.9zM97.0 320.0h0.9v0.9h-0.9zM93.3 319.5h0.9v0.9h-0.9zM104.0 313.7h0.9v0.9h-0.9zM96.7 315.7h0.9v0.9h-0.9zM103.9 317.9h0.9v0.9h-0.9zM99.3 313.1h0.9v0.9h-0.9zM96.2 316.4h0.9v0.9h-0.9zM90.4 323.3h0.9v0.9h-0.9zM97.6 308.0h0.9v0.9h-0.9zM99.5 315.8h0.9v0.9h-0.9zM98.9 318.2h0.9v0.9h-0.9zM89.1 315.4h0.9v0.9h-0.9zM102.2 313.6h0.9v0.9h-0.9zM89.4 309.9h0.9v0.9h-0.9zM91.2 318.0h0.9v0.9h-0.9zM104.8 318.5h0.9v0.9h-0.9zM92.8 313.2h0.9v0.9h-0.9zM99.6 319.0h0.9v0.9h-0.9zM89.8 310.8h0.9v0.9h-0.9zM98.0 317.6h0.9v0.9h-0.9zM90.0 315.4h0.9v0.9h-0.9zM94.5 318.6h0.9v0.9h-0.9zM95.6 316.0h0.9v0.9h-0.9zM96.4 321.5h0.9v0.9h-0.9zM102.1 314.6h0.9v0.9h-0.9zM99.0 312.8h0.9v0.9h-0.9zM97.8 320.0h0.9v0.9h-0.9zM102.7 314.6h0.9v0.9h-0.9zM96.3 317.3h0.9v0.9h-0.9zM89.4 316.5h0.9v0.9h-0.9zM93.8 318.2h0.9v0.9h-0.9zM87.9 306.9h0.9v0.9h-0.9zM96.9 317.7h0.9v0.9h-0.9zM95.2 320.7h0.9v0.9h-0.9zM94.1 313.5h0.9v0.9h-0.9zM96.0 308.9h0.9v0.9h-0.9zM93.2 316.3h0.9v0.9h-0.9zM99.9 315.6h0.9v0.9h-0.9zM96.7 313.3h0.9v0.9h-0.9zM100.3 324.4h0.9v0.9h-0.9zM93.4 316.5h0.9v0.9h-0.9zM98.7 321.3h0.9v0.9h-0.9zM87.2 306.3h0.9v0.9h-0.9zM100.4 320.2h0.9v0.9h-0.9zM97.6 317.6h0.9v0.9h-0.9zM101.2 318.2h0.9v0.9h-0.9zM102.0 310.5h0.9v0.9h-0.9zM89.1 299.9h0.9v0.9h-0.9zM99.4 314.6h0.9v0.9h-0.9zM95.9 315.2h0.9v0.9h-0.9zM92.7 312.4h0.9v0.9h-0.9zM94.4 319.5h0.9v0.9h-0.9zM96.6 316.7h0.9v0.9h-0.9zM97.0 320.8h0.9v0.9h-0.9zM98.3 315.7h0.9v0.9h-0.9zM99.1 315.7h0.9v0.9h-0.9zM93.3 323.4h0.9v0.9h-0.9zM96.9 311.8h0.9v0.9h-0.9zM101.8 318.1h0.9v0.9h-0.9zM91.7 324.1h0.9v0.9h-0.9zM99.3 320.7h0.9v0.9h-0.9zM97.0 315.7h0.9v0.9h-0.9zM90.7 321.1h0.9v0.9h-0.9zM96.0 315.0h0.9v0.9h-0.9zM98.0 316.8h0.9v0.9h-0.9zM98.8 314.6h0.9v0.9h-0.9zM92.7 306.1h0.9v0.9h-0.9zM95.4 319.6h0.9v0.9h-0.9zM101.9 314.7h0.9v0.9h-0.9zM98.3 324.0h0.9v0.9h-0.9zM96.0 319.9h0.9v0.9h-0.9zM104.1 316.6h0.9v0.9h-0.9zM100.8 313.0h0.9v0.9h-0.9zM97.1 316.0h0.9v0.9h-0.9zM98.6 321.8h0.9v0.9h-0.9zM106.2 313.2h0.9v0.9h-0.9zM94.5 318.8h0.9v0.9h-0.9zM92.2 318.8h0.9v0.9h-0.9zM98.5 315.1h0.9v0.9h-0.9zM96.3 309.0h0.9v0.9h-0.9zM97.3 309.0h0.9v0.9h-0.9zM92.2 313.7h0.9v0.9h-0.9zM95.8 320.5h0.9v0.9h-0.9zM96.0 314.5h0.9v0.9h-0.9zM101.3 324.0h0.9v0.9h-0.9zM96.9 318.2h0.9v0.9h-0.9zM102.4 317.7h0.9v0.9h-0.9zM103.3 306.9h0.9v0.9h-0.9zM96.8 318.4h0.9v0.9h-0.9zM101.8 319.6h0.9v0.9h-0.9zM93.4 311.3h0.9v0.9h-0.9zM98.4 321.4h0.9v0.9h-0.9zM89.6 311.5h0.9v0.9h-0.9zM93.1 307.1h0.9v0.9h-0.9zM94.4 314.3h0.9v0.9h-0.9zM97.3 313.0h0.9v0.9h-0.9zM91.6 314.5h0.9v0.9h-0.9zM95.0 313.2h0.9v0.9h-0.9zM97.6 320.0h0.9v0.9h-0.9zM92.0 314.4h0.9v0.9h-0.9zM92.9 316.2h0.9v0.9h-0.9zM96.5 309.9h0.9v0.9h-0.9zM98.4 316.3h0.9v0.9h-0.9zM88.4 317.8h0.9v0.9h-0.9zM98.8 307.4h0.9v0.9h-0.9zM100.3 317.4h0.9v0.9h-0.9zM99.2 318.5h0.9v0.9h-0.9zM101.9 315.3h0.9v0.9h-0.9zM99.7 314.4h0.9v0.9h-0.9zM98.3 312.5h0.9v0.9h-0.9zM98.1 315.6h0.9v0.9h-0.9zM89.8 312.6h0.9v0.9h-0.9zM98.7 320.9h0.9v0.9h-0.9zM99.1 318.9h0.9v0.9h-0.9zM98.3 322.9h0.9v0.9h-0.9zM93.6 313.8h0.9v0.9h-0.9zM100.5 316.7h0.9v0.9h-0.9zM94.1 313.6h0.9v0.9h-0.9zM96.1 319.4h0.9v0.9h-0.9zM96.0 310.6h0.9v0.9h-0.9zM98.5 317.3h0.9v0.9h-0.9zM92.9 320.1h0.9v0.9h-0.9zM94.5 314.8h0.9v0.9h-0.9zM102.1 322.7h0.9v0.9h-0.9zM93.8 318.5h0.9v0.9h-0.9zM95.9 322.1h0.9v0.9h-0.9zM94.6 320.3h0.9v0.9h-0.9zM102.4 304.2h0.9v0.9h-0.9zM95.1 318.8h0.9v0.9h-0.9zM94.8 313.2h0.9v0.9h-0.9zM106.3 316.8h0.9v0.9h-0.9zM90.1 320.5h0.9v0.9h-0.9zM90.2 321.9h0.9v0.9h-0.9zM93.9 317.1h0.9v0.9h-0.9zM102.3 317.0h0.9v0.9h-0.9zM87.2 308.3h0.9v0.9h-0.9zM102.9 320.0h0.9v0.9h-0.9zM93.9 320.5h0.9v0.9h-0.9zM99.6 319.5h0.9v0.9h-0.9zM85.4 314.9h0.9v0.9h-0.9zM101.6 319.9h0.9v0.9h-0.9zM96.4 304.6h0.9v0.9h-0.9zM97.9 318.8h0.9v0.9h-0.9zM106.5 311.8h0.9v0.9h-0.9zM94.8 316.6h0.9v0.9h-0.9zM99.7 314.3h0.9v0.9h-0.9zM100.3 312.6h0.9v0.9h-0.9zM96.7 313.9h0.9v0.9h-0.9zM95.9 313.1h0.9v0.9h-0.9zM90.7 321.6h0.9v0.9h-0.9zM96.8 313.7h0.9v0.9h-0.9zM98.8 321.2h0.9v0.9h-0.9zM91.6 315.9h0.9v0.9h-0.9zM99.6 318.9h0.9v0.9h-0.9zM91.4 306.3h0.9v0.9h-0.9zM102.5 318.0h0.9v0.9h-0.9zM95.9 315.1h0.9v0.9h-0.9zM96.8 314.4h0.9v0.9h-0.9zM90.4 312.8h0.9v0.9h-0.9zM92.6 313.5h0.9v0.9h-0.9zM92.0 319.5h0.9v0.9h-0.9zM91.3 319.6h0.9v0.9h-0.9zM92.2 318.1h0.9v0.9h-0.9zM102.9 317.4h0.9v0.9h-0.9zM93.0 316.6h0.9v0.9h-0.9zM94.2 308.1h0.9v0.9h-0.9zM93.8 317.2h0.9v0.9h-0.9zM94.3 316.8h0.9v0.9h-0.9zM100.9 320.1h0.9v0.9h-0.9zM101.4 319.2h0.9v0.9h-0.9zM94.9 316.3h0.9v0.9h-0.9zM94.6 314.9h0.9v0.9h-0.9zM92.7 308.1h0.9v0.9h-0.9zM94.7 316.3h0.9v0.9h-0.9zM91.8 316.3h0.9v0.9h-0.9zM98.4 315.6h0.9v0.9h-0.9zM101.7 303.9h0.9v0.9h-0.9zM92.4 307.6h0.9v0.9h-0.9zM85.0 317.0h0.9v0.9h-0.9zM98.2 314.9h0.9v0.9h-0.9zM95.2 305.6h0.9v0.9h-0.9zM100.8 318.2h0.9v0.9h-0.9zM95.5 313.6h0.9v0.9h-0.9zM98.5 314.1h0.9v0.9h-0.9z" fill="#4a4a4a" fill-opacity="0.85"/>
<g transform="rotate(24 96.3 316.4)"><ellipse cx="96.3" cy="316.4" rx="8.0" ry="9.4" fill="#5c5c5c" fill-opacity="0.55"/><ellipse cx="96.3" cy="316.4" rx="5.9" ry="7.3" fill="#bdbdbd" stroke="#333" stroke-width="2.0"/><ellipse cx="96.3" cy="316.4" rx="3.6" ry="4.9" fill="#c4c4c4" stroke="#777" stroke-width="0.9"/><ellipse cx="96.5" cy="317.0" rx="0.9" ry="1.3" fill="#444"/></g>
<line x1="64.95" y1="257.00" x2="132.75" y2="257.00" stroke="#787878" stroke-width="0.9"/>
<line x1="132.30" y1="257.00" x2="132.30" y2="325.50" stroke="#787878" stroke-width="0.9"/>
<line x1="65.40" y1="257.00" x2="65.40" y2="325.50" stroke="#8c8c8c" stroke-width="0.9"/>
<line x1="64.95" y1="325.50" x2="132.75" y2="325.50" stroke="#8c8c8c" stroke-width="0.9"/>
<line x1="68.44" y1="325.50" x2="68.44" y2="324.60" stroke="#999" stroke-width="0.5"/>
<line x1="71.48" y1="325.50" x2="71.48" y2="324.60" stroke="#999" stroke-width="0.5"/>
<line x1="74.52" y1="325.50" x2="74.52" y2="324.60" stroke="#999" stroke-width="0.5"/>
<line x1="77.56" y1="325.50" x2="77.56" y2="324.60" stroke="#999" stroke-width="0.5"/>
<line x1="80.60" y1="325.50" x2="80.60" y2="323.90" stroke="#999" stroke-width="0.5"/>
<line x1="83.65" y1="325.50" x2="83.65" y2="324.60" stroke="#999" stroke-width="0.5"/>
<line x1="86.69" y1="325.50" x2="86.69" y2="324.60" stroke="#999" stroke-width="0.5"/>
<line x1="89.73" y1="325.50" x2="89.73" y2="324.60" stroke="#999" stroke-width="0.5"/>
<line x1="92.77" y1="325.50" x2="92.77" y2="324.60" stroke="#999" stroke-width="0.5"/>
<line x1="95.81" y1="325.50" x2="95.81" y2="323.90" stroke="#999" stroke-width="0.5"/>
<line x1="98.85" y1="325.50" x2="98.85" y2="324.60" stroke="#999" stroke-width="0.5"/>
<line x1="101.89" y1="325.50" x2="101.89" y2="324.60" stroke="#999" stroke-width="0.5"/>
<line x1="104.93" y1="325.50" x2="104.93" y2="324.60" stroke="#999" stroke-width="0.5"/>
<line x1="107.97" y1="325.50" x2="107.97" y2="324.60" stroke="#999" stroke-width="0.5"/>
<line x1="111.01" y1="325.50" x2="111.01" y2="323.90" stroke="#999" stroke-width="0.5"/>
<line x1="114.05" y1="325.50" x2="114.05" y2="324.60" stroke="#999" stroke-width="0.5"/>
<line x1="117.10" y1="325.50" x2="117.10" y2="324.60" stroke="#999" stroke-width="0.5"/>
<line x1="120.14" y1="325.50" x2="120.14" y2="324.60" stroke="#999" stroke-width="0.5"/>
<line x1="123.18" y1="325.50" x2="123.18" y2="324.60" stroke="#999" stroke-width="0.5"/>
<line x1="126.22" y1="325.50" x2="126.22" y2="323.90" stroke="#999" stroke-width="0.5"/>
<line x1="129.26" y1="325.50" x2="129.26" y2="324.60" stroke="#999" stroke-width="0.5"/>
<line x1="80.30" y1="257.00" x2="80.30" y2="325.50" stroke="#787878" stroke-width="0.9"/>
<line x1="65.40" y1="307.60" x2="132.30" y2="307.60" stroke="#787878" stroke-width="0.9"/>
<line x1="65.40" y1="260.11" x2="66.30" y2="260.11" stroke="#999" stroke-width="0.5"/>
<line x1="65.40" y1="263.23" x2="66.30" y2="263.23" stroke="#999" stroke-width="0.5"/>
<line x1="65.40" y1="266.34" x2="66.30" y2="266.34" stroke="#999" stroke-width="0.5"/>
<line x1="65.40" y1="269.45" x2="66.30" y2="269.45" stroke="#999" stroke-width="0.5"/>
<line x1="65.40" y1="272.57" x2="67.00" y2="272.57" stroke="#999" stroke-width="0.5"/>
<line x1="65.40" y1="275.68" x2="66.30" y2="275.68" stroke="#999" stroke-width="0.5"/>
<line x1="65.40" y1="278.80" x2="66.30" y2="278.80" stroke="#999" stroke-width="0.5"/>
<line x1="65.40" y1="281.91" x2="66.30" y2="281.91" stroke="#999" stroke-width="0.5"/>
<line x1="65.40" y1="285.02" x2="66.30" y2="285.02" stroke="#999" stroke-width="0.5"/>
<line x1="65.40" y1="288.14" x2="67.00" y2="288.14" stroke="#999" stroke-width="0.5"/>
<line x1="65.40" y1="291.25" x2="66.30" y2="291.25" stroke="#999" stroke-width="0.5"/>
<line x1="65.40" y1="294.36" x2="66.30" y2="294.36" stroke="#999" stroke-width="0.5"/>
<line x1="65.40" y1="297.48" x2="66.30" y2="297.48" stroke="#999" stroke-width="0.5"/>
<line x1="65.40" y1="300.59" x2="66.30" y2="300.59" stroke="#999" stroke-width="0.5"/>
<line x1="65.40" y1="303.70" x2="67.00" y2="303.70" stroke="#999" stroke-width="0.5"/>
<line x1="65.40" y1="306.82" x2="66.30" y2="306.82" stroke="#999" stroke-width="0.5"/>
<line x1="65.40" y1="309.93" x2="66.30" y2="309.93" stroke="#999" stroke-width="0.5"/>
<line x1="65.40" y1="313.05" x2="66.30" y2="313.05" stroke="#999" stroke-width="0.5"/>
<line x1="65.40" y1="316.16" x2="66.30" y2="316.16" stroke="#999" stroke-width="0.5"/>
<line x1="65.40" y1="319.27" x2="67.00" y2="319.27" stroke="#999" stroke-width="0.5"/>
<line x1="65.40" y1="322.39" x2="66.30" y2="322.39" stroke="#999" stroke-width="0.5"/>
<text x="130.30" y="267.30" font-size="10" text-anchor="end" fill="#000">0.9</text>
<path d="M173.8 306.2h0.8v0.8h-0.8zM161.5 309.1h0.8v0.8h-0.8zM173.7 313.8h0.8v0.8h-0.8zM168.3 309.1h0.8v0.8h-0.8zM175.8 310.2h0.8v0.8h-0.8zM178.9 321.2h0.8v0.8h-0.8zM168.2 297.8h0.8v0.8h-0.8zM177.0 318.5h0.8v0.8h-0.8zM177.3 314.2h0.8v0.8h-0.8zM169.6 305.0h0.8v0.8h-0.8zM177.1 303.8h0.8v0.8h-0.8zM163.6 303.3h0.8v0.8h-0.8zM185.2 320.8h0.8v0.8h-0.8zM169.3 304.9h0.8v0.8h-0.8zM173.9 304.8h0.8v0.8h-0.8zM179.3 308.8h0.8v0.8h-0.8zM167.3 317.2h0.8v0.8h-0.8zM169.8 310.6h0.8v0.8h-0.8zM172.6 307.4h0.8v0.8h-0.8zM174.3 305.1h0.8v0.8h-0.8zM163.5 296.1h0.8v0.8h-0.8zM166.4 304.7h0.8v0.8h-0.8zM172.6 309.6h0.8v0.8h-0.8zM175.5 310.0h0.8v0.8h-0.8zM168.7 305.0h0.8v0.8h-0.8zM162.1 308.3h0.8v0.8h-0.8zM175.1 312.5h0.8v0.8h-0.8zM172.1 308.3h0.8v0.8h-0.8zM177.4 309.4h0.8v0.8h-0.8zM176.4 312.8h0.8v0.8h-0.8zM173.8 317.1h0.8v0.8h-0.8zM169.8 307.1h0.8v0.8h-0.8zM168.7 304.5h0.8v0.8h-0.8zM180.5 319.9h0.8v0.8h-0.8zM172.8 312.7h0.8v0.8h-0.8zM178.6 314.1h0.8v0.8h-0.8zM178.7 301.7h0.8v0.8h-0.8zM169.5 312.0h0.8v0.8h-0.8zM179.9 309.9h0.8v0.8h-0.8zM168.4 307.2h0.8v0.8h-0.8zM169.4 304.2h0.8v0.8h-0.8zM180.2 305.5h0.8v0.8h-0.8zM172.8 322.3h0.8v0.8h-0.8zM178.6 311.3h0.8v0.8h-0.8zM169.6 311.8h0.8v0.8h-0.8zM180.8 313.0h0.8v0.8h-0.8zM179.0 309.9h0.8v0.8h-0.8zM175.3 308.1h0.8v0.8h-0.8zM174.8 317.1h0.8v0.8h-0.8zM165.5 308.9h0.8v0.8h-0.8zM173.9 305.9h0.8v0.8h-0.8zM171.2 314.0h0.8v0.8h-0.8zM182.7 313.1h0.8v0.8h-0.8zM174.3 300.0h0.8v0.8h-0.8zM182.3 309.8h0.8v0.8h-0.8zM172.5 302.6h0.8v0.8h-0.8zM172.4 302.7h0.8v0.8h-0.8zM173.1 312.1h0.8v0.8h-0.8zM172.9 311.0h0.8v0.8h-0.8zM168.4 317.9h0.8v0.8h-0.8zM169.4 298.4h0.8v0.8h-0.8zM171.8 304.7h0.8v0.8h-0.8zM167.7 307.2h0.8v0.8h-0.8zM174.2 302.2h0.8v0.8h-0.8zM172.0 317.9h0.8v0.8h-0.8zM176.1 308.4h0.8v0.8h-0.8zM173.3 308.6h0.8v0.8h-0.8zM172.5 313.7h0.8v0.8h-0.8zM172.2 294.9h0.8v0.8h-0.8zM172.6 304.0h0.8v0.8h-0.8zM176.0 305.6h0.8v0.8h-0.8zM173.4 322.4h0.8v0.8h-0.8zM167.5 302.6h0.8v0.8h-0.8zM165.6 294.9h0.8v0.8h-0.8zM163.3 311.5h0.8v0.8h-0.8zM169.5 298.1h0.8v0.8h-0.8zM165.3 313.0h0.8v0.8h-0.8zM168.8 307.1h0.8v0.8h-0.8zM174.4 317.4h0.8v0.8h-0.8zM182.4 315.5h0.8v0.8h-0.8zM173.4 310.4h0.8v0.8h-0.8zM181.7 317.9h0.8v0.8h-0.8zM171.1 312.0h0.8v0.8h-0.8zM174.1 309.6h0.8v0.8h-0.8zM170.2 301.3h0.8v0.8h-0.8zM170.0 300.0h0.8v0.8h-0.8zM178.8 312.5h0.8v0.8h-0.8zM166.7 317.7h0.8v0.8h-0.8zM177.2 297.8h0.8v0.8h-0.8zM181.9 314.2h0.8v0.8h-0.8z" fill="#8a8a8a" fill-opacity="0.8"/>
<path d="M179.7 310.4h0.9v0.9h-0.9zM175.3 318.3h0.9v0.9h-0.9zM173.4 317.1h0.9v0.9h-0.9zM174.7 309.1h0.9v0.9h-0.9zM164.3 309.6h0.9v0.9h-0.9zM168.7 313.4h0.9v0.9h-0.9zM174.3 317.6h0.9v0.9h-0.9zM171.3 313.1h0.9v0.9h-0.9zM171.7 320.9h0.9v0.9h-0.9zM175.9 316.8h0.9v0.9h-0.9zM173.2 323.8h0.9v0.9h-0.9zM170.5 319.4h0.9v0.9h-0.9zM177.1 315.0h0.9v0.9h-0.9zM174.2 310.9h0.9v0.9h-0.9zM177.2 317.3h0.9v0.9h-0.9zM166.0 319.5h0.9v0.9h-0.9zM170.1 322.5h0.9v0.9h-0.9zM168.8 315.5h0.9v0.9h-0.9zM173.0 314.7h0.9v0.9h-0.9zM172.5 313.6h0.9v0.9h-0.9zM175.3 316.3h0.9v0.9h-0.9zM168.8 303.1h0.9v0.9h-0.9zM177.6 316.5h0.9v0.9h-0.9zM164.2 316.8h0.9v0.9h-0.9zM176.1 321.4h0.9v0.9h-0.9zM169.7 323.7h0.9v0.9h-0.9zM172.6 319.6h0.9v0.9h-0.9zM168.7 310.9h0.9v0.9h-0.9zM178.7 320.7h0.9v0.9h-0.9zM180.6 320.4h0.9v0.9h-0.9zM166.9 308.3h0.9v0.9h-0.9zM168.1 313.1h0.9v0.9h-0.9zM169.4 319.1h0.9v0.9h-0.9zM173.3 315.0h0.9v0.9h-0.9zM172.8 315.6h0.9v0.9h-0.9zM174.4 319.9h0.9v0.9h-0.9zM175.5 313.0h0.9v0.9h-0.9zM167.6 323.2h0.9v0.9h-0.9zM174.5 321.6h0.9v0.9h-0.9zM164.1 314.7h0.9v0.9h-0.9zM170.0 309.4h0.9v0.9h-0.9zM171.0 319.8h0.9v0.9h-0.9zM179.7 324.0h0.9v0.9h-0.9zM166.0 309.6h0.9v0.9h-0.9zM176.1 320.8h0.9v0.9h-0.9zM171.0 310.1h0.9v0.9h-0.9zM177.1 320.1h0.9v0.9h-0.9zM174.0 314.0h0.9v0.9h-0.9zM174.9 320.1h0.9v0.9h-0.9zM166.7 307.5h0.9v0.9h-0.9zM174.5 318.6h0.9v0.9h-0.9zM173.7 320.6h0.9v0.9h-0.9zM169.4 315.9h0.9v0.9h-0.9zM171.7 319.0h0.9v0.9h-0.9zM179.1 315.1h0.9v0.9h-0.9zM184.1 323.6h0.9v0.9h-0.9zM176.8 319.1h0.9v0.9h-0.9zM180.1 315.4h0.9v0.9h-0.9zM170.0 311.2h0.9v0.9h-0.9zM176.5 322.8h0.9v0.9h-0.9zM175.3 318.3h0.9v0.9h-0.9zM171.5 317.1h0.9v0.9h-0.9zM167.3 321.3h0.9v0.9h-0.9zM168.5 311.0h0.9v0.9h-0.9zM167.4 312.3h0.9v0.9h-0.9zM177.8 321.4h0.9v0.9h-0.9zM167.4 320.7h0.9v0.9h-0.9zM175.4 313.5h0.9v0.9h-0.9zM164.2 312.7h0.9v0.9h-0.9zM169.8 317.9h0.9v0.9h-0.9zM167.3 306.6h0.9v0.9h-0.9zM170.8 308.9h0.9v0.9h-0.9zM174.4 310.5h0.9v0.9h-0.9zM167.6 312.2h0.9v0.9h-0.9zM171.8 322.5h0.9v0.9h-0.9zM177.1 319.2h0.9v0.9h-0.9zM171.2 308.9h0.9v0.9h-0.9zM168.9 313.7h0.9v0.9h-0.9zM168.5 318.7h0.9v0.9h-0.9zM167.7 312.9h0.9v0.9h-0.9zM164.1 306.4h0.9v0.9h-0.9zM177.1 322.7h0.9v0.9h-0.9zM171.4 311.6h0.9v0.9h-0.9zM160.0 317.1h0.9v0.9h-0.9zM178.3 317.7h0.9v0.9h-0.9zM178.8 323.4h0.9v0.9h-0.9zM176.7 314.2h0.9v0.9h-0.9zM178.3 320.0h0.9v0.9h-0.9zM164.5 314.4h0.9v0.9h-0.9zM165.5 315.8h0.9v0.9h-0.9zM173.2 311.2h0.9v0.9h-0.9zM164.8 322.5h0.9v0.9h-0.9zM176.3 323.4h0.9v0.9h-0.9zM167.8 321.4h0.9v0.9h-0.9zM171.7 317.6h0.9v0.9h-0.9zM173.1 321.1h0.9v0.9h-0.9zM177.1 316.7h0.9v0.9h-0.9zM167.1 319.9h0.9v0.9h-0.9zM171.0 319.3h0.9v0.9h-0.9zM176.0 324.1h0.9v0.9h-0.9zM176.7 314.1h0.9v0.9h-0.9zM170.4 318.4h0.9v0.9h-0.9zM179.7 322.3h0.9v0.9h-0.9zM172.5 310.0h0.9v0.9h-0.9zM166.8 317.5h0.9v0.9h-0.9zM170.1 321.8h0.9v0.9h-0.9zM173.1 308.3h0.9v0.9h-0.9zM168.7 317.1h0.9v0.9h-0.9zM169.7 315.6h0.9v0.9h-0.9zM173.1 312.4h0.9v0.9h-0.9zM173.3 313.2h0.9v0.9h-0.9zM170.6 318.9h0.9v0.9h-0.9zM170.0 317.7h0.9v0.9h-0.9zM179.6 316.4h0.9v0.9h-0.9zM172.7 319.8h0.9v0.9h-0.9zM172.3 321.5h0.9v0.9h-0.9zM167.3 319.3h0.9v0.9h-0.9zM168.6 312.5h0.9v0.9h-0.9zM179.0 312.2h0.9v0.9h-0.9zM181.3 319.5h0.9v0.9h-0.9zM177.3 311.6h0.9v0.9h-0.9zM180.0 323.3h0.9v0.9h-0.9zM171.5 315.7h0.9v0.9h-0.9zM183.8 317.2h0.9v0.9h-0.9zM169.2 313.3h0.9v0.9h-0.9zM174.8 317.9h0.9v0.9h-0.9zM175.8 324.6h0.9v0.9h-0.9zM171.4 318.6h0.9v0.9h-0.9zM177.3 311.5h0.9v0.9h-0.9zM164.2 311.0h0.9v0.9h-0.9zM164.5 307.4h0.9v0.9h-0.9zM171.3 307.4h0.9v0.9h-0.9zM176.8 323.3h0.9v0.9h-0.9zM164.3 314.8h0.9v0.9h-0.9zM164.6 320.0h0.9v0.9h-0.9zM168.4 315.0h0.9v0.9h-0.9zM173.3 318.9h0.9v0.9h-0.9zM170.6 316.4h0.9v0.9h-0.9zM169.9 316.9h0.9v0.9h-0.9zM166.9 316.6h0.9v0.9h-0.9zM162.5 313.9h0.9v0.9h-0.9zM181.1 316.7h0.9v0.9h-0.9zM166.8 317.5h0.9v0.9h-0.9zM165.1 308.4h0.9v0.9h-0.9zM170.0 319.8h0.9v0.9h-0.9zM173.8 315.8h0.9v0.9h-0.9zM166.2 311.1h0.9v0.9h-0.9zM178.8 317.5h0.9v0.9h-0.9zM164.4 306.2h0.9v0.9h-0.9zM166.8 315.9h0.9v0.9h-0.9zM172.9 315.5h0.9v0.9h-0.9zM168.7 309.7h0.9v0.9h-0.9zM170.1 324.4h0.9v0.9h-0.9zM170.1 320.4h0.9v0.9h-0.9zM164.0 315.0h0.9v0.9h-0.9zM175.1 321.3h0.9v0.9h-0.9zM168.0 319.2h0.9v0.9h-0.9zM172.8 312.8h0.9v0.9h-0.9zM173.0 312.0h0.9v0.9h-0.9zM168.5 316.2h0.9v0.9h-0.9zM159.5 315.8h0.9v0.9h-0.9zM165.3 309.3h0.9v0.9h-0.9zM171.5 320.0h0.9v0.9h-0.9zM172.4 322.4h0.9v0.9h-0.9zM164.8 310.0h0.9v0.9h-0.9zM180.0 318.2h0.9v0.9h-0.9zM175.2 312.3h0.9v0.9h-0.9zM176.3 317.5h0.9v0.9h-0.9zM175.2 316.4h0.9v0.9h-0.9zM176.7 313.2h0.9v0.9h-0.9zM165.4 309.2h0.9v0.9h-0.9zM176.4 312.8h0.9v0.9h-0.9zM165.9 311.8h0.9v0.9h-0.9zM168.1 310.2h0.9v0.9h-0.9zM169.9 313.3h0.9v0.9h-0.9zM168.1 311.7h0.9v0.9h-0.9zM171.6 314.1h0.9v0.9h-0.9zM173.1 317.5h0.9v0.9h-0.9zM170.3 305.8h0.9v0.9h-0.9zM168.5 312.5h0.9v0.9h-0.9zM173.2 308.7h0.9v0.9h-0.9zM168.4 314.9h0.9v0.9h-0.9zM172.2 321.1h0.9v0.9h-0.9zM171.7 320.9h0.9v0.9h-0.9zM162.6 307.6h0.9v0.9h-0.9zM178.5 318.4h0.9v0.9h-0.9zM174.6 316.9h0.9v0.9h-0.9zM172.5 310.5h0.9v0.9h-0.9zM175.7 313.7h0.9v0.9h-0.9zM176.9 316.7h0.9v0.9h-0.9zM161.1 310.1h0.9v0.9h-0.9zM177.2 315.6h0.9v0.9h-0.9zM170.8 317.5h0.9v0.9h-0.9zM169.4 313.7h0.9v0.9h-0.9zM172.9 317.0h0.9v0.9h-0.9zM179.2 316.5h0.9v0.9h-0.9zM181.8 321.4h0.9v0.9h-0.9zM173.0 317.0h0.9v0.9h-0.9zM170.4 312.8h0.9v0.9h-0.9zM170.9 313.2h0.9v0.9h-0.9zM180.6 318.9h0.9v0.9h-0.9zM167.1 307.1h0.9v0.9h-0.9zM171.3 314.3h0.9v0.9h-0.9zM165.4 310.8h0.9v0.9h-0.9zM162.8 319.0h0.9v0.9h-0.9zM171.8 315.6h0.9v0.9h-0.9zM179.1 316.9h0.9v0.9h-0.9zM172.4 314.5h0.9v0.9h-0.9zM171.8 323.5h0.9v0.9h-0.9zM179.5 324.5h0.9v0.9h-0.9zM170.6 316.4h0.9v0.9h-0.9zM169.7 320.9h0.9v0.9h-0.9zM166.7 319.0h0.9v0.9h-0.9zM179.5 323.1h0.9v0.9h-0.9zM169.6 321.5h0.9v0.9h-0.9zM167.7 312.7h0.9v0.9h-0.9zM168.0 321.8h0.9v0.9h-0.9zM178.8 313.4h0.9v0.9h-0.9zM168.2 314.7h0.9v0.9h-0.9zM185.3 321.1h0.9v0.9h-0.9zM166.8 307.7h0.9v0.9h-0.9zM171.0 322.0h0.9v0.9h-0.9zM180.4 315.0h0.9v0.9h-0.9zM168.2 313.9h0.9v0.9h-0.9zM165.0 320.7h0.9v0.9h-0.9zM168.9 321.4h0.9v0.9h-0.9zM162.3 310.2h0.9v0.9h-0.9zM172.3 312.6h0.9v0.9h-0.9zM175.8 316.3h0.9v0.9h-0.9zM167.8 319.3h0.9v0.9h-0.9zM173.0 307.1h0.9v0.9h-0.9zM181.4 318.7h0.9v0.9h-0.9zM172.7 307.4h0.9v0.9h-0.9zM168.3 314.6h0.9v0.9h-0.9zM174.8 309.3h0.9v0.9h-0.9zM164.9 306.6h0.9v0.9h-0.9zM171.6 318.0h0.9v0.9h-0.9zM163.5 313.5h0.9v0.9h-0.9zM177.1 323.9h0.9v0.9h-0.9zM174.8 314.8h0.9v0.9h-0.9zM165.3 311.8h0.9v0.9h-0.9zM169.4 317.0h0.9v0.9h-0.9zM174.6 324.3h0.9v0.9h-0.9zM171.8 311.2h0.9v0.9h-0.9zM180.8 320.9h0.9v0.9h-0.9zM171.5 312.8h0.9v0.9h-0.9zM162.0 311.4h0.9v0.9h-0.9zM175.1 312.4h0.9v0.9h-0.9zM166.4 317.2h0.9v0.9h-0.9zM174.3 319.2h0.9v0.9h-0.9zM177.5 323.1h0.9v0.9h-0.9zM169.9 321.0h0.9v0.9h-0.9zM168.8 319.6h0.9v0.9h-0.9zM173.4 317.5h0.9v0.9h-0.9zM176.6 316.2h0.9v0.9h-0.9zM178.7 320.5h0.9v0.9h-0.9zM171.9 313.6h0.9v0.9h-0.9zM167.9 313.8h0.9v0.9h-0.9zM171.2 316.2h0.9v0.9h-0.9zM186.9 319.4h0.9v0.9h-0.9zM174.4 312.2h0.9v0.9h-0.9zM168.4 314.8h0.9v0.9h-0.9zM171.4 311.3h0.9v0.9h-0.9zM178.7 313.6h0.9v0.9h-0.9zM173.4 305.1h0.9v0.9h-0.9zM172.6 317.6h0.9v0.9h-0.9zM174.0 319.2h0.9v0.9h-0.9zM173.7 317.1h0.9v0.9h-0.9zM162.4 312.9h0.9v0.9h-0.9zM162.4 319.3h0.9v0.9h-0.9zM173.3 315.4h0.9v0.9h-0.9zM167.5 313.5h0.9v0.9h-0.9zM174.0 322.5h0.9v0.9h-0.9zM161.8 307.0h0.9v0.9h-0.9zM168.6 312.1h0.9v0.9h-0.9zM169.9 317.2h0.9v0.9h-0.9zM185.1 313.1h0.9v0.9h-0.9zM172.9 317.6h0.9v0.9h-0.9zM173.5 320.8h0.9v0.9h-0.9zM178.4 310.3h0.9v0.9h-0.9zM172.5 315.0h0.9v0.9h-0.9zM171.4 308.9h0.9v0.9h-0.9zM160.4 305.2h0.9v0.9h-0.9zM174.9 317.2h0.9v0.9h-0.9zM168.8 304.9h0.9v0.9h-0.9zM169.3 312.7h0.9v0.9h-0.9zM164.2 311.9h0.9v0.9h-0.9zM176.3 318.9h0.9v0.9h-0.9zM172.9 318.8h0.9v0.9h-0.9zM169.5 316.6h0.9v0.9h-0.9zM173.3 319.0h0.9v0.9h-0.9zM171.6 315.6h0.9v0.9h-0.9zM170.5 313.2h0.9v0.9h-0.9zM183.3 318.8h0.9v0.9h-0.9zM176.2 308.8h0.9v0.9h-0.9zM176.7 320.3h0.9v0.9h-0.9zM183.0 322.6h0.9v0.9h-0.9zM173.9 310.6h0.9v0.9h-0.9zM168.6 317.6h0.9v0.9h-0.9zM172.9 311.4h0.9v0.9h-0.9zM169.8 314.4h0.9v0.9h-0.9zM173.0 317.9h0.9v0.9h-0.9zM168.9 310.4h0.9v0.9h-0.9zM180.5 324.0h0.9v0.9h-0.9zM173.4 321.2h0.9v0.9h-0.9zM175.3 319.5h0.9v0.9h-0.9zM173.2 312.6h0.9v0.9h-0.9zM176.5 321.2h0.9v0.9h-0.9zM182.5 319.9h0.9v0.9h-0.9zM169.7 313.4h0.9v0.9h-0.9zM168.6 316.9h0.9v0.9h-0.9zM173.1 319.5h0.9v0.9h-0.9zM182.6 316.2h0.9v0.9h-0.9zM176.1 318.6h0.9v0.9h-0.9zM173.1 315.3h0.9v0.9h-0.9zM170.3 312.3h0.9v0.9h-0.9zM173.0 316.2h0.9v0.9h-0.9zM172.3 312.2h0.9v0.9h-0.9zM172.5 316.5h0.9v0.9h-0.9zM173.3 311.2h0.9v0.9h-0.9zM175.7 321.0h0.9v0.9h-0.9zM174.4 314.5h0.9v0.9h-0.9zM169.6 315.2h0.9v0.9h-0.9zM178.0 323.8h0.9v0.9h-0.9zM170.4 313.2h0.9v0.9h-0.9zM174.3 317.3h0.9v0.9h-0.9zM166.8 312.8h0.9v0.9h-0.9zM172.8 319.5h0.9v0.9h-0.9zM165.1 311.4h0.9v0.9h-0.9zM172.5 310.4h0.9v0.9h-0.9zM173.3 318.0h0.9v0.9h-0.9zM170.1 311.4h0.9v0.9h-0.9zM171.4 314.7h0.9v0.9h-0.9zM172.4 312.3h0.9v0.9h-0.9zM174.5 308.3h0.9v0.9h-0.9zM171.4 316.3h0.9v0.9h-0.9zM175.6 313.4h0.9v0.9h-0.9zM173.8 313.6h0.9v0.9h-0.9zM171.1 318.4h0.9v0.9h-0.9zM169.5 321.0h0.9v0.9h-0.9zM177.8 316.5h0.9v0.9h-0.9zM167.6 318.2h0.9v0.9h-0.9zM179.2 321.5h0.9v0.9h-0.9zM173.0 307.5h0.9v0.9h-0.9zM171.3 323.1h0.9v0.9h-0.9zM168.4 321.7h0.9v0.9h-0.9zM182.1 320.0h0.9v0.9h-0.9zM176.8 314.7h0.9v0.9h-0.9zM166.4 315.8h0.9v0.9h-0.9zM171.2 316.1h0.9v0.9h-0.9zM175.2 315.6h0.9v0.9h-0.9zM173.8 318.3h0.9v0.9h-0.9zM174.4 316.7h0.9v0.9h-0.9zM170.2 313.3h0.9v0.9h-0.9zM178.6 317.0h0.9v0.9h-0.9zM166.3 313.6h0.9v0.9h-0.9zM170.9 314.2h0.9v0.9h-0.9zM175.3 310.7h0.9v0.9h-0.9zM174.7 317.0h0.9v0.9h-0.9zM166.9 316.5h0.9v0.9h-0.9zM172.6 318.7h0.9v0.9h-0.9zM170.6 317.8h0.9v0.9h-0.9zM162.8 311.1h0.9v0.9h-0.9zM177.5 321.3h0.9v0.9h-0.9zM171.2 313.4h0.9v0.9h-0.9zM173.8 306.3h0.9v0.9h-0.9zM169.6 319.5h0.9v0.9h-0.9zM173.6 311.3h0.9v0.9h-0.9zM165.8 323.3h0.9v0.9h-0.9zM171.5 312.0h0.9v0.9h-0.9zM173.9 320.6h0.9v0.9h-0.9zM162.1 321.6h0.9v0.9h-0.9zM172.3 306.3h0.9v0.9h-0.9zM172.9 307.8h0.9v0.9h-0.9zM178.1 318.2h0.9v0.9h-0.9zM181.6 313.4h0.9v0.9h-0.9zM173.9 321.3h0.9v0.9h-0.9zM168.1 312.9h0.9v0.9h-0.9zM170.4 316.0h0.9v0.9h-0.9zM168.0 318.6h0.9v0.9h-0.9zM174.8 316.6h0.9v0.9h-0.9zM179.5 314.7h0.9v0.9h-0.9zM177.3 313.7h0.9v0.9h-0.9zM172.6 307.0h0.9v0.9h-0.9zM172.8 315.5h0.9v0.9h-0.9zM168.9 313.4h0.9v0.9h-0.9zM169.5 312.8h0.9v0.9h-0.9zM161.2 313.4h0.9v0.9h-0.9zM168.8 313.8h0.9v0.9h-0.9zM167.1 315.6h0.9v0.9h-0.9zM175.4 315.1h0.9v0.9h-0.9zM172.1 322.8h0.9v0.9h-0.9zM178.2 320.7h0.9v0.9h-0.9zM177.0 314.7h0.9v0.9h-0.9zM173.4 321.6h0.9v0.9h-0.9zM169.5 315.7h0.9v0.9h-0.9zM174.5 318.1h0.9v0.9h-0.9zM172.5 321.0h0.9v0.9h-0.9zM172.5 319.8h0.9v0.9h-0.9zM178.2 319.5h0.9v0.9h-0.9zM173.7 310.7h0.9v0.9h-0.9zM165.2 313.3h0.9v0.9h-0.9zM176.8 323.5h0.9v0.9h-0.9zM167.1 317.8h0.9v0.9h-0.9zM167.1 312.8h0.9v0.9h-0.9z" fill="#4a4a4a" fill-opacity="0.85"/>
<g transform="rotate(24 172.2 316.3)"><ellipse cx="172.2" cy="316.3" rx="8.0" ry="9.4" fill="#5c5c5c" fill-opacity="0.55"/><ellipse cx="172.2" cy="316.3" rx="5.9" ry="7.3" fill="#bdbdbd" stroke="#333" stroke-width="2.0"/><ellipse cx="172.2" cy="316.3" rx="3.6" ry="4.9" fill="#c4c4c4" stroke="#777" stroke-width="0.9"/><ellipse cx="172.39999999999998" cy="316.90000000000003" rx="0.9" ry="1.3" fill="#444"/></g>
<line x1="142.05" y1="257.00" x2="208.75" y2="257.00" stroke="#787878" stroke-width="0.9"/>
<line x1="208.30" y1="257.00" x2="208.30" y2="325.60" stroke="#787878" stroke-width="0.9"/>
<line x1="142.50" y1="257.00" x2="142.50" y2="325.60" stroke="#8c8c8c" stroke-width="0.9"/>
<line x1="142.05" y1="325.60" x2="208.75" y2="325.60" stroke="#8c8c8c" stroke-width="0.9"/>
<line x1="145.49" y1="325.60" x2="145.49" y2="324.70" stroke="#999" stroke-width="0.5"/>
<line x1="148.48" y1="325.60" x2="148.48" y2="324.70" stroke="#999" stroke-width="0.5"/>
<line x1="151.47" y1="325.60" x2="151.47" y2="324.70" stroke="#999" stroke-width="0.5"/>
<line x1="154.46" y1="325.60" x2="154.46" y2="324.70" stroke="#999" stroke-width="0.5"/>
<line x1="157.45" y1="325.60" x2="157.45" y2="324.00" stroke="#999" stroke-width="0.5"/>
<line x1="160.45" y1="325.60" x2="160.45" y2="324.70" stroke="#999" stroke-width="0.5"/>
<line x1="163.44" y1="325.60" x2="163.44" y2="324.70" stroke="#999" stroke-width="0.5"/>
<line x1="166.43" y1="325.60" x2="166.43" y2="324.70" stroke="#999" stroke-width="0.5"/>
<line x1="169.42" y1="325.60" x2="169.42" y2="324.70" stroke="#999" stroke-width="0.5"/>
<line x1="172.41" y1="325.60" x2="172.41" y2="324.00" stroke="#999" stroke-width="0.5"/>
<line x1="175.40" y1="325.60" x2="175.40" y2="324.70" stroke="#999" stroke-width="0.5"/>
<line x1="178.39" y1="325.60" x2="178.39" y2="324.70" stroke="#999" stroke-width="0.5"/>
<line x1="181.38" y1="325.60" x2="181.38" y2="324.70" stroke="#999" stroke-width="0.5"/>
<line x1="184.37" y1="325.60" x2="184.37" y2="324.70" stroke="#999" stroke-width="0.5"/>
<line x1="187.36" y1="325.60" x2="187.36" y2="324.00" stroke="#999" stroke-width="0.5"/>
<line x1="190.35" y1="325.60" x2="190.35" y2="324.70" stroke="#999" stroke-width="0.5"/>
<line x1="193.35" y1="325.60" x2="193.35" y2="324.70" stroke="#999" stroke-width="0.5"/>
<line x1="196.34" y1="325.60" x2="196.34" y2="324.70" stroke="#999" stroke-width="0.5"/>
<line x1="199.33" y1="325.60" x2="199.33" y2="324.70" stroke="#999" stroke-width="0.5"/>
<line x1="202.32" y1="325.60" x2="202.32" y2="324.00" stroke="#999" stroke-width="0.5"/>
<line x1="205.31" y1="325.60" x2="205.31" y2="324.70" stroke="#999" stroke-width="0.5"/>
<line x1="158.20" y1="257.00" x2="158.20" y2="325.60" stroke="#787878" stroke-width="0.9"/>
<line x1="142.50" y1="307.60" x2="208.30" y2="307.60" stroke="#787878" stroke-width="0.9"/>
<line x1="142.50" y1="260.12" x2="143.40" y2="260.12" stroke="#999" stroke-width="0.5"/>
<line x1="142.50" y1="263.24" x2="143.40" y2="263.24" stroke="#999" stroke-width="0.5"/>
<line x1="142.50" y1="266.35" x2="143.40" y2="266.35" stroke="#999" stroke-width="0.5"/>
<line x1="142.50" y1="269.47" x2="143.40" y2="269.47" stroke="#999" stroke-width="0.5"/>
<line x1="142.50" y1="272.59" x2="144.10" y2="272.59" stroke="#999" stroke-width="0.5"/>
<line x1="142.50" y1="275.71" x2="143.40" y2="275.71" stroke="#999" stroke-width="0.5"/>
<line x1="142.50" y1="278.83" x2="143.40" y2="278.83" stroke="#999" stroke-width="0.5"/>
<line x1="142.50" y1="281.95" x2="143.40" y2="281.95" stroke="#999" stroke-width="0.5"/>
<line x1="142.50" y1="285.06" x2="143.40" y2="285.06" stroke="#999" stroke-width="0.5"/>
<line x1="142.50" y1="288.18" x2="144.10" y2="288.18" stroke="#999" stroke-width="0.5"/>
<line x1="142.50" y1="291.30" x2="143.40" y2="291.30" stroke="#999" stroke-width="0.5"/>
<line x1="142.50" y1="294.42" x2="143.40" y2="294.42" stroke="#999" stroke-width="0.5"/>
<line x1="142.50" y1="297.54" x2="143.40" y2="297.54" stroke="#999" stroke-width="0.5"/>
<line x1="142.50" y1="300.65" x2="143.40" y2="300.65" stroke="#999" stroke-width="0.5"/>
<line x1="142.50" y1="303.77" x2="144.10" y2="303.77" stroke="#999" stroke-width="0.5"/>
<line x1="142.50" y1="306.89" x2="143.40" y2="306.89" stroke="#999" stroke-width="0.5"/>
<line x1="142.50" y1="310.01" x2="143.40" y2="310.01" stroke="#999" stroke-width="0.5"/>
<line x1="142.50" y1="313.13" x2="143.40" y2="313.13" stroke="#999" stroke-width="0.5"/>
<line x1="142.50" y1="316.25" x2="143.40" y2="316.25" stroke="#999" stroke-width="0.5"/>
<line x1="142.50" y1="319.36" x2="144.10" y2="319.36" stroke="#999" stroke-width="0.5"/>
<line x1="142.50" y1="322.48" x2="143.40" y2="322.48" stroke="#999" stroke-width="0.5"/>
<text x="206.30" y="267.30" font-size="10" text-anchor="end" fill="#000">1.4</text>
<path d="M93.1 399.4h0.8v0.8h-0.8zM95.1 401.3h0.8v0.8h-0.8zM90.3 400.2h0.8v0.8h-0.8zM97.9 396.9h0.8v0.8h-0.8zM96.1 394.3h0.8v0.8h-0.8zM89.8 395.0h0.8v0.8h-0.8zM91.6 408.2h0.8v0.8h-0.8zM92.3 403.2h0.8v0.8h-0.8zM95.0 397.8h0.8v0.8h-0.8zM97.2 393.5h0.8v0.8h-0.8zM97.9 398.1h0.8v0.8h-0.8zM88.1 399.0h0.8v0.8h-0.8zM96.4 398.4h0.8v0.8h-0.8zM100.5 394.9h0.8v0.8h-0.8zM96.2 399.6h0.8v0.8h-0.8zM90.6 401.4h0.8v0.8h-0.8zM88.4 391.4h0.8v0.8h-0.8zM96.3 392.2h0.8v0.8h-0.8zM93.7 390.0h0.8v0.8h-0.8zM94.5 392.1h0.8v0.8h-0.8zM95.6 390.5h0.8v0.8h-0.8zM96.0 395.5h0.8v0.8h-0.8zM94.5 396.3h0.8v0.8h-0.8zM94.7 391.3h0.8v0.8h-0.8zM83.9 396.7h0.8v0.8h-0.8zM90.5 394.8h0.8v0.8h-0.8zM95.9 388.7h0.8v0.8h-0.8zM91.1 394.2h0.8v0.8h-0.8zM90.0 397.9h0.8v0.8h-0.8zM93.6 393.3h0.8v0.8h-0.8z" fill="#aaa" fill-opacity="0.8"/>
<path d="M89.0 405.1h0.9v0.9h-0.9zM90.4 404.4h0.9v0.9h-0.9zM95.1 396.7h0.9v0.9h-0.9zM88.5 402.6h0.9v0.9h-0.9zM94.7 405.0h0.9v0.9h-0.9zM96.7 405.8h0.9v0.9h-0.9zM91.6 401.9h0.9v0.9h-0.9zM96.5 401.3h0.9v0.9h-0.9zM97.7 397.7h0.9v0.9h-0.9zM96.0 402.1h0.9v0.9h-0.9zM84.7 405.6h0.9v0.9h-0.9zM94.5 402.7h0.9v0.9h-0.9zM88.6 401.2h0.9v0.9h-0.9zM99.7 400.0h0.9v0.9h-0.9zM78.3 399.9h0.9v0.9h-0.9zM88.0 402.2h0.9v0.9h-0.9zM91.5 399.8h0.9v0.9h-0.9zM89.6 405.8h0.9v0.9h-0.9zM90.9 399.2h0.9v0.9h-0.9zM96.6 404.3h0.9v0.9h-0.9zM88.7 404.9h0.9v0.9h-0.9zM85.3 399.7h0.9v0.9h-0.9zM98.0 401.8h0.9v0.9h-0.9zM87.6 404.2h0.9v0.9h-0.9zM97.1 402.5h0.9v0.9h-0.9zM85.4 401.5h0.9v0.9h-0.9zM95.0 405.0h0.9v0.9h-0.9zM101.2 401.8h0.9v0.9h-0.9zM91.1 402.5h0.9v0.9h-0.9zM98.4 399.7h0.9v0.9h-0.9zM98.8 394.1h0.9v0.9h-0.9zM96.6 400.5h0.9v0.9h-0.9zM95.2 404.7h0.9v0.9h-0.9zM88.1 402.3h0.9v0.9h-0.9zM94.2 404.4h0.9v0.9h-0.9zM89.2 399.5h0.9v0.9h-0.9zM92.4 401.9h0.9v0.9h-0.9zM86.8 405.5h0.9v0.9h-0.9zM90.9 407.1h0.9v0.9h-0.9zM96.9 402.7h0.9v0.9h-0.9zM96.3 399.2h0.9v0.9h-0.9zM91.8 400.8h0.9v0.9h-0.9zM87.7 402.7h0.9v0.9h-0.9zM92.6 407.0h0.9v0.9h-0.9zM78.8 400.5h0.9v0.9h-0.9zM89.3 401.2h0.9v0.9h-0.9zM95.0 403.9h0.9v0.9h-0.9zM93.3 401.1h0.9v0.9h-0.9zM95.3 403.7h0.9v0.9h-0.9zM85.3 401.8h0.9v0.9h-0.9zM87.3 398.9h0.9v0.9h-0.9zM93.8 402.8h0.9v0.9h-0.9zM93.7 399.9h0.9v0.9h-0.9zM92.3 399.8h0.9v0.9h-0.9zM94.8 404.7h0.9v0.9h-0.9zM100.7 406.5h0.9v0.9h-0.9zM89.7 401.2h0.9v0.9h-0.9zM89.2 403.5h0.9v0.9h-0.9zM101.7 404.8h0.9v0.9h-0.9zM83.7 398.7h0.9v0.9h-0.9zM87.6 404.2h0.9v0.9h-0.9zM93.2 403.5h0.9v0.9h-0.9zM100.9 400.0h0.9v0.9h-0.9zM94.7 400.2h0.9v0.9h-0.9zM84.5 397.9h0.9v0.9h-0.9zM82.7 402.8h0.9v0.9h-0.9zM93.4 405.7h0.9v0.9h-0.9zM92.6 400.4h0.9v0.9h-0.9zM90.0 408.5h0.9v0.9h-0.9zM85.6 403.1h0.9v0.9h-0.9zM93.3 404.5h0.9v0.9h-0.9zM91.5 404.1h0.9v0.9h-0.9zM96.7 402.1h0.9v0.9h-0.9zM91.2 402.0h0.9v0.9h-0.9zM89.1 402.0h0.9v0.9h-0.9zM91.9 403.3h0.9v0.9h-0.9zM98.9 406.7h0.9v0.9h-0.9zM91.3 404.5h0.9v0.9h-0.9zM94.5 405.0h0.9v0.9h-0.9zM93.3 403.4h0.9v0.9h-0.9zM91.2 400.2h0.9v0.9h-0.9zM96.9 406.6h0.9v0.9h-0.9zM96.0 404.0h0.9v0.9h-0.9zM94.3 401.2h0.9v0.9h-0.9zM85.5 404.7h0.9v0.9h-0.9zM94.1 400.9h0.9v0.9h-0.9zM89.1 406.6h0.9v0.9h-0.9zM85.4 408.1h0.9v0.9h-0.9zM90.1 402.5h0.9v0.9h-0.9zM91.0 403.1h0.9v0.9h-0.9zM92.3 400.3h0.9v0.9h-0.9zM97.8 400.2h0.9v0.9h-0.9zM91.0 404.3h0.9v0.9h-0.9zM90.9 401.3h0.9v0.9h-0.9zM94.7 401.5h0.9v0.9h-0.9zM87.8 402.3h0.9v0.9h-0.9zM92.3 407.9h0.9v0.9h-0.9zM88.5 405.6h0.9v0.9h-0.9zM89.8 401.5h0.9v0.9h-0.9zM91.8 403.4h0.9v0.9h-0.9zM96.9 408.0h0.9v0.9h-0.9zM90.5 406.7h0.9v0.9h-0.9zM97.5 405.1h0.9v0.9h-0.9zM89.9 405.4h0.9v0.9h-0.9zM92.7 403.7h0.9v0.9h-0.9zM92.0 404.7h0.9v0.9h-0.9zM98.0 406.1h0.9v0.9h-0.9zM92.3 405.7h0.9v0.9h-0.9zM99.4 399.7h0.9v0.9h-0.9zM99.5 398.5h0.9v0.9h-0.9zM95.5 404.4h0.9v0.9h-0.9zM99.6 403.5h0.9v0.9h-0.9zM91.1 400.1h0.9v0.9h-0.9zM87.8 405.0h0.9v0.9h-0.9zM92.2 400.4h0.9v0.9h-0.9zM95.5 400.2h0.9v0.9h-0.9zM91.3 401.2h0.9v0.9h-0.9zM100.3 407.1h0.9v0.9h-0.9zM92.5 397.7h0.9v0.9h-0.9zM94.4 402.8h0.9v0.9h-0.9zM94.7 404.4h0.9v0.9h-0.9zM91.8 405.5h0.9v0.9h-0.9zM96.8 403.3h0.9v0.9h-0.9zM91.5 401.1h0.9v0.9h-0.9zM96.2 399.2h0.9v0.9h-0.9zM92.5 400.3h0.9v0.9h-0.9zM87.2 404.5h0.9v0.9h-0.9zM93.1 402.7h0.9v0.9h-0.9zM97.0 398.0h0.9v0.9h-0.9zM92.9 403.5h0.9v0.9h-0.9zM96.8 399.2h0.9v0.9h-0.9zM96.3 403.3h0.9v0.9h-0.9zM99.0 406.1h0.9v0.9h-0.9zM93.2 401.3h0.9v0.9h-0.9zM91.7 399.7h0.9v0.9h-0.9zM93.1 396.8h0.9v0.9h-0.9zM92.8 403.9h0.9v0.9h-0.9zM97.5 401.5h0.9v0.9h-0.9zM99.2 400.6h0.9v0.9h-0.9zM92.6 396.8h0.9v0.9h-0.9zM89.9 400.1h0.9v0.9h-0.9zM99.5 404.2h0.9v0.9h-0.9zM88.6 404.2h0.9v0.9h-0.9zM95.2 401.9h0.9v0.9h-0.9zM93.3 401.7h0.9v0.9h-0.9zM90.9 397.2h0.9v0.9h-0.9zM92.8 406.5h0.9v0.9h-0.9zM99.2 401.8h0.9v0.9h-0.9zM90.1 402.0h0.9v0.9h-0.9zM97.0 403.7h0.9v0.9h-0.9zM90.7 403.7h0.9v0.9h-0.9zM92.3 404.2h0.9v0.9h-0.9zM91.5 398.1h0.9v0.9h-0.9zM93.4 404.9h0.9v0.9h-0.9zM88.6 402.3h0.9v0.9h-0.9zM96.9 401.5h0.9v0.9h-0.9zM96.7 405.7h0.9v0.9h-0.9zM89.2 407.5h0.9v0.9h-0.9zM86.3 401.0h0.9v0.9h-0.9zM96.3 406.6h0.9v0.9h-0.9zM89.3 400.6h0.9v0.9h-0.9zM94.0 396.8h0.9v0.9h-0.9zM95.9 404.3h0.9v0.9h-0.9zM91.3 404.2h0.9v0.9h-0.9zM96.4 403.5h0.9v0.9h-0.9zM95.4 407.2h0.9v0.9h-0.9zM91.2 403.1h0.9v0.9h-0.9zM91.0 405.7h0.9v0.9h-0.9zM91.5 404.0h0.9v0.9h-0.9zM93.8 402.8h0.9v0.9h-0.9zM100.4 402.3h0.9v0.9h-0.9zM99.1 405.1h0.9v0.9h-0.9zM98.7 402.1h0.9v0.9h-0.9zM97.1 404.9h0.9v0.9h-0.9zM90.6 403.4h0.9v0.9h-0.9zM92.7 402.5h0.9v0.9h-0.9zM98.6 400.4h0.9v0.9h-0.9zM86.2 397.4h0.9v0.9h-0.9zM91.3 400.7h0.9v0.9h-0.9zM93.3 404.3h0.9v0.9h-0.9zM100.5 403.5h0.9v0.9h-0.9zM95.1 400.4h0.9v0.9h-0.9zM95.6 406.7h0.9v0.9h-0.9zM98.8 396.8h0.9v0.9h-0.9zM96.9 407.3h0.9v0.9h-0.9zM96.6 398.1h0.9v0.9h-0.9zM91.9 404.4h0.9v0.9h-0.9zM94.9 400.2h0.9v0.9h-0.9zM89.5 405.5h0.9v0.9h-0.9zM87.7 406.9h0.9v0.9h-0.9zM93.3 403.5h0.9v0.9h-0.9zM87.7 400.8h0.9v0.9h-0.9zM96.1 398.2h0.9v0.9h-0.9zM101.8 398.4h0.9v0.9h-0.9zM88.1 402.7h0.9v0.9h-0.9zM95.2 404.8h0.9v0.9h-0.9zM91.7 402.0h0.9v0.9h-0.9zM92.2 400.9h0.9v0.9h-0.9zM82.5 405.5h0.9v0.9h-0.9zM94.2 403.1h0.9v0.9h-0.9zM90.6 403.3h0.9v0.9h-0.9zM93.1 402.4h0.9v0.9h-0.9zM97.8 397.5h0.9v0.9h-0.9zM94.2 399.4h0.9v0.9h-0.9zM91.9 407.1h0.9v0.9h-0.9zM88.7 402.3h0.9v0.9h-0.9zM90.8 405.4h0.9v0.9h-0.9zM89.2 397.6h0.9v0.9h-0.9zM95.3 401.5h0.9v0.9h-0.9zM91.9 405.8h0.9v0.9h-0.9zM89.5 401.5h0.9v0.9h-0.9zM93.8 403.8h0.9v0.9h-0.9zM91.1 405.7h0.9v0.9h-0.9zM102.5 401.4h0.9v0.9h-0.9zM100.9 396.3h0.9v0.9h-0.9zM99.0 401.6h0.9v0.9h-0.9zM93.8 401.6h0.9v0.9h-0.9zM90.6 398.8h0.9v0.9h-0.9zM91.6 406.5h0.9v0.9h-0.9zM97.9 401.6h0.9v0.9h-0.9zM91.0 400.5h0.9v0.9h-0.9zM88.2 408.0h0.9v0.9h-0.9zM95.9 402.9h0.9v0.9h-0.9zM91.2 399.6h0.9v0.9h-0.9zM98.6 404.9h0.9v0.9h-0.9zM89.3 405.5h0.9v0.9h-0.9zM88.6 404.5h0.9v0.9h-0.9zM89.2 401.4h0.9v0.9h-0.9zM95.2 403.9h0.9v0.9h-0.9zM97.4 400.1h0.9v0.9h-0.9zM99.7 406.6h0.9v0.9h-0.9zM93.2 404.0h0.9v0.9h-0.9zM90.0 402.1h0.9v0.9h-0.9zM87.7 402.9h0.9v0.9h-0.9zM94.0 406.6h0.9v0.9h-0.9zM97.1 405.0h0.9v0.9h-0.9zM91.7 401.9h0.9v0.9h-0.9zM91.8 403.3h0.9v0.9h-0.9zM85.2 404.9h0.9v0.9h-0.9zM86.7 401.1h0.9v0.9h-0.9zM93.3 401.1h0.9v0.9h-0.9zM100.1 402.3h0.9v0.9h-0.9zM99.7 406.1h0.9v0.9h-0.9zM91.1 403.8h0.9v0.9h-0.9zM98.6 401.6h0.9v0.9h-0.9zM93.6 400.9h0.9v0.9h-0.9zM93.4 401.5h0.9v0.9h-0.9zM93.5 405.6h0.9v0.9h-0.9zM98.9 403.0h0.9v0.9h-0.9zM94.0 405.1h0.9v0.9h-0.9zM92.0 399.4h0.9v0.9h-0.9zM97.8 399.8h0.9v0.9h-0.9zM97.0 399.7h0.9v0.9h-0.9zM100.8 399.5h0.9v0.9h-0.9zM96.7 407.1h0.9v0.9h-0.9zM89.2 407.0h0.9v0.9h-0.9zM89.8 397.3h0.9v0.9h-0.9zM96.2 404.7h0.9v0.9h-0.9zM92.4 395.1h0.9v0.9h-0.9zM93.0 401.7h0.9v0.9h-0.9zM91.6 401.7h0.9v0.9h-0.9zM85.8 400.9h0.9v0.9h-0.9zM100.6 407.2h0.9v0.9h-0.9zM91.7 400.5h0.9v0.9h-0.9zM94.8 405.8h0.9v0.9h-0.9zM96.2 399.1h0.9v0.9h-0.9zM93.9 403.0h0.9v0.9h-0.9zM99.1 406.2h0.9v0.9h-0.9zM95.4 406.2h0.9v0.9h-0.9zM91.6 407.2h0.9v0.9h-0.9zM91.4 403.8h0.9v0.9h-0.9zM97.0 399.9h0.9v0.9h-0.9zM90.3 397.4h0.9v0.9h-0.9zM93.9 402.4h0.9v0.9h-0.9zM91.9 404.1h0.9v0.9h-0.9zM84.5 402.5h0.9v0.9h-0.9zM93.6 401.8h0.9v0.9h-0.9zM96.5 407.8h0.9v0.9h-0.9zM91.4 399.8h0.9v0.9h-0.9zM90.7 402.9h0.9v0.9h-0.9zM95.6 400.0h0.9v0.9h-0.9zM97.3 399.6h0.9v0.9h-0.9zM96.6 403.9h0.9v0.9h-0.9zM92.1 402.1h0.9v0.9h-0.9zM95.2 405.2h0.9v0.9h-0.9zM87.7 403.4h0.9v0.9h-0.9zM90.1 404.5h0.9v0.9h-0.9zM98.9 402.8h0.9v0.9h-0.9zM92.8 403.1h0.9v0.9h-0.9zM81.0 404.9h0.9v0.9h-0.9zM95.5 403.1h0.9v0.9h-0.9zM91.6 400.4h0.9v0.9h-0.9zM92.5 406.2h0.9v0.9h-0.9zM92.8 406.6h0.9v0.9h-0.9zM82.6 401.2h0.9v0.9h-0.9zM94.3 402.6h0.9v0.9h-0.9zM86.3 400.6h0.9v0.9h-0.9zM98.4 398.8h0.9v0.9h-0.9zM89.1 399.3h0.9v0.9h-0.9zM90.9 404.5h0.9v0.9h-0.9zM95.7 396.6h0.9v0.9h-0.9zM99.2 400.8h0.9v0.9h-0.9zM90.8 407.6h0.9v0.9h-0.9zM92.9 398.9h0.9v0.9h-0.9zM90.6 400.4h0.9v0.9h-0.9zM89.0 401.6h0.9v0.9h-0.9zM96.8 403.6h0.9v0.9h-0.9zM89.1 402.9h0.9v0.9h-0.9zM93.3 404.9h0.9v0.9h-0.9zM91.8 404.0h0.9v0.9h-0.9zM101.9 402.9h0.9v0.9h-0.9zM88.7 403.6h0.9v0.9h-0.9zM89.9 401.5h0.9v0.9h-0.9zM94.0 403.6h0.9v0.9h-0.9zM92.0 405.1h0.9v0.9h-0.9zM92.4 398.7h0.9v0.9h-0.9zM96.8 401.5h0.9v0.9h-0.9zM98.2 400.7h0.9v0.9h-0.9zM95.6 403.5h0.9v0.9h-0.9zM82.1 398.2h0.9v0.9h-0.9zM88.6 406.8h0.9v0.9h-0.9zM85.4 405.3h0.9v0.9h-0.9zM97.7 404.1h0.9v0.9h-0.9zM96.0 401.1h0.9v0.9h-0.9zM93.2 403.3h0.9v0.9h-0.9zM94.9 404.7h0.9v0.9h-0.9zM92.3 400.5h0.9v0.9h-0.9zM90.9 403.8h0.9v0.9h-0.9zM86.3 398.9h0.9v0.9h-0.9zM91.5 401.0h0.9v0.9h-0.9zM92.1 394.7h0.9v0.9h-0.9zM91.8 401.9h0.9v0.9h-0.9zM96.4 396.7h0.9v0.9h-0.9zM91.9 404.0h0.9v0.9h-0.9zM95.2 406.2h0.9v0.9h-0.9zM97.6 399.5h0.9v0.9h-0.9zM95.8 401.6h0.9v0.9h-0.9zM89.9 407.2h0.9v0.9h-0.9zM90.6 400.1h0.9v0.9h-0.9zM91.5 400.1h0.9v0.9h-0.9zM97.4 403.7h0.9v0.9h-0.9zM99.0 403.8h0.9v0.9h-0.9zM90.7 405.7h0.9v0.9h-0.9zM90.5 401.2h0.9v0.9h-0.9zM92.5 402.7h0.9v0.9h-0.9zM98.1 400.8h0.9v0.9h-0.9zM94.7 402.5h0.9v0.9h-0.9zM88.0 399.3h0.9v0.9h-0.9zM92.3 403.8h0.9v0.9h-0.9zM94.5 404.0h0.9v0.9h-0.9zM93.4 401.3h0.9v0.9h-0.9zM95.0 399.6h0.9v0.9h-0.9zM87.6 401.6h0.9v0.9h-0.9zM87.3 401.1h0.9v0.9h-0.9zM90.1 400.9h0.9v0.9h-0.9zM93.0 400.2h0.9v0.9h-0.9zM91.4 397.5h0.9v0.9h-0.9zM93.8 400.0h0.9v0.9h-0.9zM94.9 394.2h0.9v0.9h-0.9zM89.9 403.3h0.9v0.9h-0.9zM83.1 401.5h0.9v0.9h-0.9zM93.6 402.9h0.9v0.9h-0.9zM87.0 403.3h0.9v0.9h-0.9zM93.8 399.7h0.9v0.9h-0.9zM96.3 402.5h0.9v0.9h-0.9zM93.3 401.3h0.9v0.9h-0.9zM95.5 402.9h0.9v0.9h-0.9zM97.9 404.0h0.9v0.9h-0.9zM90.6 401.9h0.9v0.9h-0.9zM97.0 401.5h0.9v0.9h-0.9zM94.8 404.2h0.9v0.9h-0.9zM92.5 395.6h0.9v0.9h-0.9zM93.7 403.2h0.9v0.9h-0.9zM93.8 400.3h0.9v0.9h-0.9zM98.2 402.2h0.9v0.9h-0.9zM90.6 400.5h0.9v0.9h-0.9zM94.7 399.3h0.9v0.9h-0.9zM89.0 408.6h0.9v0.9h-0.9zM98.6 405.8h0.9v0.9h-0.9zM98.9 404.4h0.9v0.9h-0.9zM86.2 406.2h0.9v0.9h-0.9zM98.4 404.1h0.9v0.9h-0.9zM85.1 406.3h0.9v0.9h-0.9zM98.9 401.1h0.9v0.9h-0.9zM93.7 404.9h0.9v0.9h-0.9zM92.8 405.9h0.9v0.9h-0.9zM93.5 404.7h0.9v0.9h-0.9zM93.6 398.2h0.9v0.9h-0.9zM94.4 406.5h0.9v0.9h-0.9zM97.9 407.8h0.9v0.9h-0.9zM95.5 400.8h0.9v0.9h-0.9zM93.3 396.8h0.9v0.9h-0.9zM92.4 405.3h0.9v0.9h-0.9zM84.2 403.2h0.9v0.9h-0.9zM96.6 406.6h0.9v0.9h-0.9zM89.3 400.6h0.9v0.9h-0.9zM85.4 399.5h0.9v0.9h-0.9zM88.4 406.7h0.9v0.9h-0.9zM95.0 401.1h0.9v0.9h-0.9zM102.4 395.0h0.9v0.9h-0.9zM92.9 403.3h0.9v0.9h-0.9zM102.1 408.0h0.9v0.9h-0.9zM102.7 403.0h0.9v0.9h-0.9zM97.3 406.7h0.9v0.9h-0.9zM95.3 403.7h0.9v0.9h-0.9zM92.4 401.4h0.9v0.9h-0.9zM88.1 408.5h0.9v0.9h-0.9zM91.3 396.3h0.9v0.9h-0.9zM94.3 402.5h0.9v0.9h-0.9zM93.9 408.1h0.9v0.9h-0.9zM92.8 401.8h0.9v0.9h-0.9zM90.1 402.5h0.9v0.9h-0.9zM91.4 403.2h0.9v0.9h-0.9zM106.3 403.8h0.9v0.9h-0.9zM89.6 408.4h0.9v0.9h-0.9zM96.8 405.1h0.9v0.9h-0.9zM96.2 405.1h0.9v0.9h-0.9zM96.0 406.9h0.9v0.9h-0.9zM97.4 406.7h0.9v0.9h-0.9zM91.1 402.6h0.9v0.9h-0.9zM90.1 405.5h0.9v0.9h-0.9zM96.7 401.2h0.9v0.9h-0.9zM98.4 399.2h0.9v0.9h-0.9zM92.8 404.5h0.9v0.9h-0.9zM93.1 403.8h0.9v0.9h-0.9zM98.1 403.6h0.9v0.9h-0.9zM88.6 404.8h0.9v0.9h-0.9zM92.8 402.9h0.9v0.9h-0.9zM90.8 398.4h0.9v0.9h-0.9zM88.0 401.5h0.9v0.9h-0.9zM88.7 394.4h0.9v0.9h-0.9zM98.0 399.1h0.9v0.9h-0.9zM90.2 404.2h0.9v0.9h-0.9zM83.1 406.7h0.9v0.9h-0.9zM90.0 404.6h0.9v0.9h-0.9zM91.2 403.5h0.9v0.9h-0.9zM93.6 402.6h0.9v0.9h-0.9zM85.5 398.2h0.9v0.9h-0.9zM93.0 406.9h0.9v0.9h-0.9zM90.9 404.2h0.9v0.9h-0.9zM93.9 404.1h0.9v0.9h-0.9zM97.4 398.1h0.9v0.9h-0.9zM94.4 402.1h0.9v0.9h-0.9zM91.9 400.0h0.9v0.9h-0.9zM89.9 399.5h0.9v0.9h-0.9zM100.3 402.6h0.9v0.9h-0.9zM96.3 399.7h0.9v0.9h-0.9zM81.5 397.1h0.9v0.9h-0.9zM93.8 406.9h0.9v0.9h-0.9zM93.0 399.6h0.9v0.9h-0.9zM92.2 399.6h0.9v0.9h-0.9zM87.4 401.9h0.9v0.9h-0.9zM91.5 400.1h0.9v0.9h-0.9zM89.5 399.8h0.9v0.9h-0.9zM94.2 406.8h0.9v0.9h-0.9zM86.4 403.4h0.9v0.9h-0.9zM88.4 402.1h0.9v0.9h-0.9zM93.6 404.3h0.9v0.9h-0.9zM97.9 400.9h0.9v0.9h-0.9zM88.0 402.0h0.9v0.9h-0.9zM94.4 400.5h0.9v0.9h-0.9zM96.9 407.7h0.9v0.9h-0.9zM87.2 403.7h0.9v0.9h-0.9zM97.5 396.8h0.9v0.9h-0.9zM94.1 401.9h0.9v0.9h-0.9zM87.2 406.6h0.9v0.9h-0.9zM94.1 401.2h0.9v0.9h-0.9zM95.1 404.5h0.9v0.9h-0.9zM96.4 404.4h0.9v0.9h-0.9zM94.9 399.0h0.9v0.9h-0.9zM91.4 403.0h0.9v0.9h-0.9zM91.6 399.4h0.9v0.9h-0.9zM85.6 403.4h0.9v0.9h-0.9zM93.3 400.8h0.9v0.9h-0.9zM91.5 399.9h0.9v0.9h-0.9zM90.1 402.3h0.9v0.9h-0.9zM90.5 404.7h0.9v0.9h-0.9zM92.6 403.0h0.9v0.9h-0.9zM94.9 406.4h0.9v0.9h-0.9zM95.7 403.3h0.9v0.9h-0.9zM92.5 400.2h0.9v0.9h-0.9zM91.8 404.7h0.9v0.9h-0.9zM94.1 401.4h0.9v0.9h-0.9zM87.6 398.0h0.9v0.9h-0.9zM94.5 405.7h0.9v0.9h-0.9zM94.8 398.5h0.9v0.9h-0.9zM92.3 403.3h0.9v0.9h-0.9zM89.4 403.6h0.9v0.9h-0.9zM92.4 400.1h0.9v0.9h-0.9zM88.0 405.1h0.9v0.9h-0.9zM94.7 399.9h0.9v0.9h-0.9zM89.0 405.3h0.9v0.9h-0.9zM95.7 401.7h0.9v0.9h-0.9zM99.9 401.7h0.9v0.9h-0.9zM88.8 405.9h0.9v0.9h-0.9zM92.4 403.6h0.9v0.9h-0.9zM93.4 399.6h0.9v0.9h-0.9zM88.2 402.0h0.9v0.9h-0.9zM99.1 399.6h0.9v0.9h-0.9zM98.9 403.3h0.9v0.9h-0.9zM88.5 403.4h0.9v0.9h-0.9zM95.6 399.9h0.9v0.9h-0.9zM84.3 403.7h0.9v0.9h-0.9zM88.6 403.9h0.9v0.9h-0.9zM85.2 402.2h0.9v0.9h-0.9zM89.8 398.1h0.9v0.9h-0.9z" fill="#484848" fill-opacity="0.85"/>
<ellipse cx="93.2" cy="402.6" rx="7.0" ry="5.2" fill="#777" fill-opacity="0.4"/><ellipse cx="92.8" cy="402.6" rx="3.9" ry="3.6" fill="#bdbdbd" fill-opacity="0.8" stroke="#4a4a4a" stroke-width="1.3"/>
<line x1="64.95" y1="343.00" x2="132.75" y2="343.00" stroke="#787878" stroke-width="0.9"/>
<line x1="132.30" y1="343.00" x2="132.30" y2="409.60" stroke="#787878" stroke-width="0.9"/>
<line x1="65.40" y1="343.00" x2="65.40" y2="409.60" stroke="#8c8c8c" stroke-width="0.9"/>
<line x1="64.95" y1="409.60" x2="132.75" y2="409.60" stroke="#8c8c8c" stroke-width="0.9"/>
<line x1="68.44" y1="409.60" x2="68.44" y2="408.70" stroke="#999" stroke-width="0.5"/>
<line x1="71.48" y1="409.60" x2="71.48" y2="408.70" stroke="#999" stroke-width="0.5"/>
<line x1="74.52" y1="409.60" x2="74.52" y2="408.70" stroke="#999" stroke-width="0.5"/>
<line x1="77.56" y1="409.60" x2="77.56" y2="408.70" stroke="#999" stroke-width="0.5"/>
<line x1="80.60" y1="409.60" x2="80.60" y2="408.00" stroke="#999" stroke-width="0.5"/>
<line x1="83.65" y1="409.60" x2="83.65" y2="408.70" stroke="#999" stroke-width="0.5"/>
<line x1="86.69" y1="409.60" x2="86.69" y2="408.70" stroke="#999" stroke-width="0.5"/>
<line x1="89.73" y1="409.60" x2="89.73" y2="408.70" stroke="#999" stroke-width="0.5"/>
<line x1="92.77" y1="409.60" x2="92.77" y2="408.70" stroke="#999" stroke-width="0.5"/>
<line x1="95.81" y1="409.60" x2="95.81" y2="408.00" stroke="#999" stroke-width="0.5"/>
<line x1="98.85" y1="409.60" x2="98.85" y2="408.70" stroke="#999" stroke-width="0.5"/>
<line x1="101.89" y1="409.60" x2="101.89" y2="408.70" stroke="#999" stroke-width="0.5"/>
<line x1="104.93" y1="409.60" x2="104.93" y2="408.70" stroke="#999" stroke-width="0.5"/>
<line x1="107.97" y1="409.60" x2="107.97" y2="408.70" stroke="#999" stroke-width="0.5"/>
<line x1="111.01" y1="409.60" x2="111.01" y2="408.00" stroke="#999" stroke-width="0.5"/>
<line x1="114.05" y1="409.60" x2="114.05" y2="408.70" stroke="#999" stroke-width="0.5"/>
<line x1="117.10" y1="409.60" x2="117.10" y2="408.70" stroke="#999" stroke-width="0.5"/>
<line x1="120.14" y1="409.60" x2="120.14" y2="408.70" stroke="#999" stroke-width="0.5"/>
<line x1="123.18" y1="409.60" x2="123.18" y2="408.70" stroke="#999" stroke-width="0.5"/>
<line x1="126.22" y1="409.60" x2="126.22" y2="408.00" stroke="#999" stroke-width="0.5"/>
<line x1="129.26" y1="409.60" x2="129.26" y2="408.70" stroke="#999" stroke-width="0.5"/>
<line x1="80.00" y1="343.00" x2="80.00" y2="409.60" stroke="#787878" stroke-width="0.9"/>
<line x1="65.40" y1="394.40" x2="132.30" y2="394.40" stroke="#787878" stroke-width="0.9"/>
<line x1="65.40" y1="346.03" x2="66.30" y2="346.03" stroke="#999" stroke-width="0.5"/>
<line x1="65.40" y1="349.05" x2="66.30" y2="349.05" stroke="#999" stroke-width="0.5"/>
<line x1="65.40" y1="352.08" x2="66.30" y2="352.08" stroke="#999" stroke-width="0.5"/>
<line x1="65.40" y1="355.11" x2="66.30" y2="355.11" stroke="#999" stroke-width="0.5"/>
<line x1="65.40" y1="358.14" x2="67.00" y2="358.14" stroke="#999" stroke-width="0.5"/>
<line x1="65.40" y1="361.16" x2="66.30" y2="361.16" stroke="#999" stroke-width="0.5"/>
<line x1="65.40" y1="364.19" x2="66.30" y2="364.19" stroke="#999" stroke-width="0.5"/>
<line x1="65.40" y1="367.22" x2="66.30" y2="367.22" stroke="#999" stroke-width="0.5"/>
<line x1="65.40" y1="370.25" x2="66.30" y2="370.25" stroke="#999" stroke-width="0.5"/>
<line x1="65.40" y1="373.27" x2="67.00" y2="373.27" stroke="#999" stroke-width="0.5"/>
<line x1="65.40" y1="376.30" x2="66.30" y2="376.30" stroke="#999" stroke-width="0.5"/>
<line x1="65.40" y1="379.33" x2="66.30" y2="379.33" stroke="#999" stroke-width="0.5"/>
<line x1="65.40" y1="382.35" x2="66.30" y2="382.35" stroke="#999" stroke-width="0.5"/>
<line x1="65.40" y1="385.38" x2="66.30" y2="385.38" stroke="#999" stroke-width="0.5"/>
<line x1="65.40" y1="388.41" x2="67.00" y2="388.41" stroke="#999" stroke-width="0.5"/>
<line x1="65.40" y1="391.44" x2="66.30" y2="391.44" stroke="#999" stroke-width="0.5"/>
<line x1="65.40" y1="394.46" x2="66.30" y2="394.46" stroke="#999" stroke-width="0.5"/>
<line x1="65.40" y1="397.49" x2="66.30" y2="397.49" stroke="#999" stroke-width="0.5"/>
<line x1="65.40" y1="400.52" x2="66.30" y2="400.52" stroke="#999" stroke-width="0.5"/>
<line x1="65.40" y1="403.55" x2="67.00" y2="403.55" stroke="#999" stroke-width="0.5"/>
<line x1="65.40" y1="406.57" x2="66.30" y2="406.57" stroke="#999" stroke-width="0.5"/>
<text x="130.30" y="353.30" font-size="10" text-anchor="end" fill="#000">0.4</text>
<path d="M167.8 387.0h0.9v0.9h-0.9zM166.7 379.3h0.9v0.9h-0.9zM169.3 376.1h0.9v0.9h-0.9zM170.4 388.8h0.9v0.9h-0.9zM174.3 391.0h0.9v0.9h-0.9zM169.8 387.5h0.9v0.9h-0.9zM168.7 378.5h0.9v0.9h-0.9zM173.6 389.0h0.9v0.9h-0.9zM167.6 379.5h0.9v0.9h-0.9zM173.6 389.0h0.9v0.9h-0.9zM164.6 389.8h0.9v0.9h-0.9zM175.0 385.9h0.9v0.9h-0.9zM170.0 383.7h0.9v0.9h-0.9zM166.5 392.0h0.9v0.9h-0.9zM179.1 386.7h0.9v0.9h-0.9zM168.2 390.5h0.9v0.9h-0.9zM167.6 390.1h0.9v0.9h-0.9zM171.4 380.3h0.9v0.9h-0.9zM165.0 385.6h0.9v0.9h-0.9zM171.4 387.6h0.9v0.9h-0.9zM172.8 378.2h0.9v0.9h-0.9zM170.3 382.5h0.9v0.9h-0.9zM168.9 387.8h0.9v0.9h-0.9zM165.3 384.7h0.9v0.9h-0.9zM164.6 387.5h0.9v0.9h-0.9zM165.7 383.2h0.9v0.9h-0.9zM169.3 382.3h0.9v0.9h-0.9zM172.5 382.4h0.9v0.9h-0.9zM171.5 387.6h0.9v0.9h-0.9zM165.1 384.8h0.9v0.9h-0.9zM165.8 384.0h0.9v0.9h-0.9zM167.7 396.2h0.9v0.9h-0.9zM167.2 394.8h0.9v0.9h-0.9zM170.1 378.7h0.9v0.9h-0.9zM160.8 389.8h0.9v0.9h-0.9zM161.8 390.0h0.9v0.9h-0.9zM172.1 388.2h0.9v0.9h-0.9zM167.9 384.6h0.9v0.9h-0.9zM169.5 384.3h0.9v0.9h-0.9zM166.8 383.9h0.9v0.9h-0.9zM172.6 382.5h0.9v0.9h-0.9zM169.9 379.5h0.9v0.9h-0.9zM166.2 378.3h0.9v0.9h-0.9zM167.9 389.8h0.9v0.9h-0.9zM169.6 383.2h0.9v0.9h-0.9zM170.7 384.1h0.9v0.9h-0.9zM169.9 387.5h0.9v0.9h-0.9zM170.4 372.1h0.9v0.9h-0.9zM164.2 390.3h0.9v0.9h-0.9zM168.2 398.6h0.9v0.9h-0.9zM167.8 382.9h0.9v0.9h-0.9zM173.7 389.1h0.9v0.9h-0.9zM175.0 388.9h0.9v0.9h-0.9zM167.9 390.1h0.9v0.9h-0.9zM165.9 383.5h0.9v0.9h-0.9zM166.7 384.8h0.9v0.9h-0.9zM171.2 383.3h0.9v0.9h-0.9zM169.7 383.2h0.9v0.9h-0.9zM171.6 370.5h0.9v0.9h-0.9zM167.9 386.9h0.9v0.9h-0.9zM164.9 391.7h0.9v0.9h-0.9zM169.3 393.2h0.9v0.9h-0.9zM171.9 389.6h0.9v0.9h-0.9zM168.1 379.9h0.9v0.9h-0.9zM167.9 383.4h0.9v0.9h-0.9zM169.4 383.4h0.9v0.9h-0.9zM178.9 377.0h0.9v0.9h-0.9zM172.6 383.4h0.9v0.9h-0.9zM167.8 391.2h0.9v0.9h-0.9zM168.6 379.2h0.9v0.9h-0.9zM170.0 384.9h0.9v0.9h-0.9zM161.6 387.1h0.9v0.9h-0.9zM165.0 381.8h0.9v0.9h-0.9zM170.2 387.7h0.9v0.9h-0.9zM167.6 398.2h0.9v0.9h-0.9zM170.0 382.6h0.9v0.9h-0.9zM169.4 385.3h0.9v0.9h-0.9zM161.2 377.2h0.9v0.9h-0.9zM163.9 397.6h0.9v0.9h-0.9zM168.0 384.5h0.9v0.9h-0.9zM166.7 391.5h0.9v0.9h-0.9zM168.7 395.6h0.9v0.9h-0.9zM171.3 395.2h0.9v0.9h-0.9zM168.2 388.1h0.9v0.9h-0.9zM167.1 385.1h0.9v0.9h-0.9zM162.8 382.7h0.9v0.9h-0.9zM165.4 382.4h0.9v0.9h-0.9zM172.7 387.5h0.9v0.9h-0.9zM172.7 390.8h0.9v0.9h-0.9zM171.7 391.6h0.9v0.9h-0.9zM166.6 390.5h0.9v0.9h-0.9zM167.5 383.0h0.9v0.9h-0.9zM172.6 398.1h0.9v0.9h-0.9zM165.3 395.7h0.9v0.9h-0.9zM171.4 381.3h0.9v0.9h-0.9zM169.5 388.1h0.9v0.9h-0.9zM169.9 384.0h0.9v0.9h-0.9zM164.3 386.2h0.9v0.9h-0.9zM171.5 390.4h0.9v0.9h-0.9zM170.8 392.2h0.9v0.9h-0.9zM165.3 385.8h0.9v0.9h-0.9zM169.7 391.6h0.9v0.9h-0.9zM169.1 388.9h0.9v0.9h-0.9zM169.1 397.7h0.9v0.9h-0.9zM161.2 385.9h0.9v0.9h-0.9zM176.9 387.3h0.9v0.9h-0.9zM162.4 386.7h0.9v0.9h-0.9zM163.8 382.2h0.9v0.9h-0.9zM169.4 395.6h0.9v0.9h-0.9zM170.2 389.7h0.9v0.9h-0.9zM172.0 387.1h0.9v0.9h-0.9zM165.7 385.5h0.9v0.9h-0.9zM169.7 384.5h0.9v0.9h-0.9zM166.3 384.0h0.9v0.9h-0.9zM163.5 380.3h0.9v0.9h-0.9zM168.3 384.0h0.9v0.9h-0.9zM168.7 393.8h0.9v0.9h-0.9zM169.6 385.8h0.9v0.9h-0.9zM164.6 380.0h0.9v0.9h-0.9zM169.9 381.1h0.9v0.9h-0.9zM170.0 380.0h0.9v0.9h-0.9zM169.1 385.6h0.9v0.9h-0.9zM172.0 383.8h0.9v0.9h-0.9zM167.3 387.4h0.9v0.9h-0.9zM168.8 395.4h0.9v0.9h-0.9zM167.7 383.0h0.9v0.9h-0.9zM167.5 388.6h0.9v0.9h-0.9zM169.4 389.9h0.9v0.9h-0.9zM163.9 399.8h0.9v0.9h-0.9zM174.8 385.8h0.9v0.9h-0.9zM164.5 386.9h0.9v0.9h-0.9zM170.0 373.5h0.9v0.9h-0.9zM168.6 377.8h0.9v0.9h-0.9zM170.1 393.7h0.9v0.9h-0.9zM172.1 377.6h0.9v0.9h-0.9zM173.3 391.1h0.9v0.9h-0.9zM167.4 388.8h0.9v0.9h-0.9zM173.7 384.1h0.9v0.9h-0.9zM168.5 382.9h0.9v0.9h-0.9zM172.5 374.0h0.9v0.9h-0.9zM173.4 380.6h0.9v0.9h-0.9zM171.7 376.9h0.9v0.9h-0.9zM165.4 382.7h0.9v0.9h-0.9zM171.4 377.0h0.9v0.9h-0.9zM170.6 382.5h0.9v0.9h-0.9zM172.8 384.3h0.9v0.9h-0.9zM170.2 385.0h0.9v0.9h-0.9zM174.6 384.0h0.9v0.9h-0.9zM168.5 397.1h0.9v0.9h-0.9zM168.9 389.8h0.9v0.9h-0.9zM166.1 387.1h0.9v0.9h-0.9zM161.0 386.6h0.9v0.9h-0.9zM166.4 377.6h0.9v0.9h-0.9zM163.8 392.4h0.9v0.9h-0.9zM170.0 377.5h0.9v0.9h-0.9zM174.7 382.1h0.9v0.9h-0.9zM167.4 387.4h0.9v0.9h-0.9zM164.8 377.0h0.9v0.9h-0.9zM166.1 392.6h0.9v0.9h-0.9zM171.8 377.2h0.9v0.9h-0.9zM172.7 386.2h0.9v0.9h-0.9zM170.3 386.3h0.9v0.9h-0.9zM170.0 380.4h0.9v0.9h-0.9zM165.5 382.1h0.9v0.9h-0.9zM167.4 389.5h0.9v0.9h-0.9zM164.5 394.9h0.9v0.9h-0.9zM166.5 382.7h0.9v0.9h-0.9zM171.0 388.4h0.9v0.9h-0.9zM167.5 380.0h0.9v0.9h-0.9zM165.2 377.1h0.9v0.9h-0.9zM172.5 392.0h0.9v0.9h-0.9zM174.9 388.8h0.9v0.9h-0.9zM169.7 390.2h0.9v0.9h-0.9zM171.8 384.6h0.9v0.9h-0.9zM169.8 398.0h0.9v0.9h-0.9zM162.9 378.2h0.9v0.9h-0.9zM165.4 390.2h0.9v0.9h-0.9zM172.6 384.1h0.9v0.9h-0.9zM170.9 385.7h0.9v0.9h-0.9zM169.6 383.0h0.9v0.9h-0.9zM168.5 386.0h0.9v0.9h-0.9zM172.4 398.5h0.9v0.9h-0.9zM162.5 389.0h0.9v0.9h-0.9zM168.6 391.4h0.9v0.9h-0.9zM172.2 390.4h0.9v0.9h-0.9zM171.3 380.7h0.9v0.9h-0.9zM162.9 395.3h0.9v0.9h-0.9zM172.7 380.7h0.9v0.9h-0.9zM172.9 389.7h0.9v0.9h-0.9zM160.3 391.0h0.9v0.9h-0.9zM165.3 392.5h0.9v0.9h-0.9zM166.3 381.8h0.9v0.9h-0.9zM163.4 384.8h0.9v0.9h-0.9zM172.0 382.2h0.9v0.9h-0.9zM162.3 398.0h0.9v0.9h-0.9zM174.8 389.9h0.9v0.9h-0.9zM166.8 379.2h0.9v0.9h-0.9zM163.1 389.1h0.9v0.9h-0.9zM173.0 380.1h0.9v0.9h-0.9zM168.6 384.4h0.9v0.9h-0.9zM167.7 388.8h0.9v0.9h-0.9zM175.7 382.4h0.9v0.9h-0.9zM171.5 392.1h0.9v0.9h-0.9zM167.6 385.2h0.9v0.9h-0.9zM164.1 392.0h0.9v0.9h-0.9zM166.8 382.3h0.9v0.9h-0.9zM168.8 381.2h0.9v0.9h-0.9zM165.1 384.3h0.9v0.9h-0.9zM173.6 384.9h0.9v0.9h-0.9zM170.4 377.8h0.9v0.9h-0.9zM162.0 396.2h0.9v0.9h-0.9zM167.3 377.4h0.9v0.9h-0.9zM168.2 389.4h0.9v0.9h-0.9zM162.8 381.1h0.9v0.9h-0.9zM169.5 380.8h0.9v0.9h-0.9zM171.3 391.4h0.9v0.9h-0.9zM170.1 383.6h0.9v0.9h-0.9zM168.4 382.5h0.9v0.9h-0.9zM168.2 387.8h0.9v0.9h-0.9zM167.6 391.4h0.9v0.9h-0.9zM177.4 382.9h0.9v0.9h-0.9zM169.8 390.6h0.9v0.9h-0.9zM170.8 384.7h0.9v0.9h-0.9zM167.0 391.6h0.9v0.9h-0.9zM170.7 388.8h0.9v0.9h-0.9zM165.9 389.5h0.9v0.9h-0.9zM171.3 385.0h0.9v0.9h-0.9zM170.8 398.2h0.9v0.9h-0.9zM162.3 389.4h0.9v0.9h-0.9zM164.6 378.4h0.9v0.9h-0.9zM167.8 389.1h0.9v0.9h-0.9zM168.8 379.5h0.9v0.9h-0.9zM163.7 382.9h0.9v0.9h-0.9zM168.6 381.3h0.9v0.9h-0.9zM163.5 395.8h0.9v0.9h-0.9zM165.8 385.1h0.9v0.9h-0.9zM166.7 382.7h0.9v0.9h-0.9zM168.7 384.3h0.9v0.9h-0.9zM170.7 379.4h0.9v0.9h-0.9zM163.6 396.9h0.9v0.9h-0.9zM168.3 390.3h0.9v0.9h-0.9zM172.6 389.1h0.9v0.9h-0.9zM168.7 377.3h0.9v0.9h-0.9zM163.2 391.5h0.9v0.9h-0.9zM170.9 389.2h0.9v0.9h-0.9zM163.0 374.0h0.9v0.9h-0.9zM165.0 379.4h0.9v0.9h-0.9zM169.1 380.3h0.9v0.9h-0.9zM174.0 382.5h0.9v0.9h-0.9zM166.7 390.9h0.9v0.9h-0.9zM169.7 380.9h0.9v0.9h-0.9zM171.4 396.8h0.9v0.9h-0.9zM164.4 384.6h0.9v0.9h-0.9zM164.9 375.1h0.9v0.9h-0.9zM170.7 389.9h0.9v0.9h-0.9zM171.9 388.4h0.9v0.9h-0.9zM161.8 385.8h0.9v0.9h-0.9zM166.3 379.4h0.9v0.9h-0.9zM164.8 390.3h0.9v0.9h-0.9zM167.6 397.1h0.9v0.9h-0.9zM170.2 375.2h0.9v0.9h-0.9zM171.6 393.0h0.9v0.9h-0.9zM168.7 379.2h0.9v0.9h-0.9zM174.6 378.6h0.9v0.9h-0.9zM168.3 375.3h0.9v0.9h-0.9zM164.3 376.4h0.9v0.9h-0.9zM172.3 392.6h0.9v0.9h-0.9zM167.2 378.3h0.9v0.9h-0.9zM168.4 388.1h0.9v0.9h-0.9zM163.4 379.5h0.9v0.9h-0.9zM168.3 390.0h0.9v0.9h-0.9zM168.9 388.5h0.9v0.9h-0.9zM164.3 371.9h0.9v0.9h-0.9zM169.7 380.8h0.9v0.9h-0.9zM168.2 383.9h0.9v0.9h-0.9zM170.2 381.6h0.9v0.9h-0.9zM173.5 386.2h0.9v0.9h-0.9zM170.4 389.6h0.9v0.9h-0.9zM172.1 388.3h0.9v0.9h-0.9zM162.6 382.4h0.9v0.9h-0.9zM175.0 388.7h0.9v0.9h-0.9zM170.5 388.6h0.9v0.9h-0.9zM166.4 382.2h0.9v0.9h-0.9zM166.4 392.6h0.9v0.9h-0.9zM169.8 396.1h0.9v0.9h-0.9zM170.3 396.7h0.9v0.9h-0.9zM170.2 379.3h0.9v0.9h-0.9zM174.6 387.9h0.9v0.9h-0.9zM172.7 387.2h0.9v0.9h-0.9zM167.5 387.0h0.9v0.9h-0.9zM164.8 379.2h0.9v0.9h-0.9zM165.6 383.0h0.9v0.9h-0.9zM163.9 385.4h0.9v0.9h-0.9zM169.6 397.5h0.9v0.9h-0.9zM174.9 385.7h0.9v0.9h-0.9zM171.6 384.8h0.9v0.9h-0.9zM169.9 385.8h0.9v0.9h-0.9zM166.7 386.4h0.9v0.9h-0.9zM163.5 388.5h0.9v0.9h-0.9zM167.6 379.8h0.9v0.9h-0.9zM167.4 389.2h0.9v0.9h-0.9zM166.3 388.7h0.9v0.9h-0.9zM170.6 394.9h0.9v0.9h-0.9zM164.9 385.4h0.9v0.9h-0.9zM170.4 394.6h0.9v0.9h-0.9zM169.5 390.3h0.9v0.9h-0.9zM163.5 382.7h0.9v0.9h-0.9zM174.3 384.4h0.9v0.9h-0.9zM176.1 381.8h0.9v0.9h-0.9zM167.6 376.9h0.9v0.9h-0.9zM170.8 387.5h0.9v0.9h-0.9zM175.6 386.9h0.9v0.9h-0.9zM167.7 377.9h0.9v0.9h-0.9zM168.3 391.4h0.9v0.9h-0.9zM171.2 393.0h0.9v0.9h-0.9zM171.6 385.7h0.9v0.9h-0.9zM170.7 387.0h0.9v0.9h-0.9zM164.0 395.8h0.9v0.9h-0.9zM169.9 380.0h0.9v0.9h-0.9zM169.9 387.6h0.9v0.9h-0.9zM172.0 394.3h0.9v0.9h-0.9zM158.1 389.2h0.9v0.9h-0.9zM173.9 380.6h0.9v0.9h-0.9zM162.2 387.6h0.9v0.9h-0.9zM169.8 388.0h0.9v0.9h-0.9zM164.8 383.3h0.9v0.9h-0.9zM169.3 390.3h0.9v0.9h-0.9zM176.2 387.7h0.9v0.9h-0.9zM166.5 372.5h0.9v0.9h-0.9zM172.3 385.2h0.9v0.9h-0.9z" fill="#6a6a6a" fill-opacity="0.8"/>
<path d="M169.0 398.4h0.9v0.9h-0.9zM172.6 395.6h0.9v0.9h-0.9zM170.0 402.2h0.9v0.9h-0.9zM170.7 406.3h0.9v0.9h-0.9zM169.1 402.1h0.9v0.9h-0.9zM173.1 396.4h0.9v0.9h-0.9zM168.3 402.0h0.9v0.9h-0.9zM173.5 399.0h0.9v0.9h-0.9zM172.8 403.1h0.9v0.9h-0.9zM163.3 396.7h0.9v0.9h-0.9zM163.5 402.3h0.9v0.9h-0.9zM170.4 404.3h0.9v0.9h-0.9zM172.9 399.9h0.9v0.9h-0.9zM174.0 404.6h0.9v0.9h-0.9zM171.5 403.5h0.9v0.9h-0.9zM164.1 403.1h0.9v0.9h-0.9zM165.2 397.7h0.9v0.9h-0.9zM168.0 402.3h0.9v0.9h-0.9zM169.3 400.7h0.9v0.9h-0.9zM165.3 402.4h0.9v0.9h-0.9zM166.4 396.9h0.9v0.9h-0.9zM169.9 406.9h0.9v0.9h-0.9zM167.8 398.1h0.9v0.9h-0.9zM175.3 407.8h0.9v0.9h-0.9zM168.3 401.1h0.9v0.9h-0.9zM170.1 405.3h0.9v0.9h-0.9zM171.4 395.5h0.9v0.9h-0.9zM164.9 397.5h0.9v0.9h-0.9zM171.3 402.2h0.9v0.9h-0.9zM177.0 400.9h0.9v0.9h-0.9zM170.8 402.1h0.9v0.9h-0.9zM170.7 406.9h0.9v0.9h-0.9zM174.9 399.7h0.9v0.9h-0.9zM172.4 400.5h0.9v0.9h-0.9zM170.0 402.4h0.9v0.9h-0.9zM169.6 400.2h0.9v0.9h-0.9zM176.0 400.9h0.9v0.9h-0.9zM172.4 407.7h0.9v0.9h-0.9zM172.1 405.4h0.9v0.9h-0.9zM175.3 405.6h0.9v0.9h-0.9zM176.7 396.8h0.9v0.9h-0.9zM177.7 401.9h0.9v0.9h-0.9zM162.2 399.6h0.9v0.9h-0.9zM163.7 401.7h0.9v0.9h-0.9zM163.3 398.3h0.9v0.9h-0.9zM170.7 402.3h0.9v0.9h-0.9zM166.2 401.0h0.9v0.9h-0.9zM169.1 402.1h0.9v0.9h-0.9zM169.5 401.0h0.9v0.9h-0.9zM173.2 396.2h0.9v0.9h-0.9zM167.4 402.3h0.9v0.9h-0.9zM167.8 399.9h0.9v0.9h-0.9zM167.7 402.5h0.9v0.9h-0.9zM174.7 401.2h0.9v0.9h-0.9zM168.4 403.0h0.9v0.9h-0.9zM168.5 395.0h0.9v0.9h-0.9zM170.6 400.5h0.9v0.9h-0.9zM167.1 404.0h0.9v0.9h-0.9zM169.7 399.8h0.9v0.9h-0.9zM160.4 395.8h0.9v0.9h-0.9zM169.6 401.4h0.9v0.9h-0.9zM171.3 402.6h0.9v0.9h-0.9zM167.5 397.4h0.9v0.9h-0.9zM164.9 401.3h0.9v0.9h-0.9zM164.7 404.4h0.9v0.9h-0.9zM163.9 395.5h0.9v0.9h-0.9zM168.7 395.6h0.9v0.9h-0.9zM176.3 398.3h0.9v0.9h-0.9zM169.3 400.9h0.9v0.9h-0.9zM166.1 395.6h0.9v0.9h-0.9zM161.7 404.8h0.9v0.9h-0.9zM163.4 403.8h0.9v0.9h-0.9zM169.4 404.8h0.9v0.9h-0.9zM167.3 404.3h0.9v0.9h-0.9zM173.3 403.9h0.9v0.9h-0.9zM175.6 401.2h0.9v0.9h-0.9zM176.0 399.3h0.9v0.9h-0.9zM176.5 392.2h0.9v0.9h-0.9zM169.6 399.0h0.9v0.9h-0.9zM169.5 405.4h0.9v0.9h-0.9zM172.5 402.1h0.9v0.9h-0.9zM176.6 396.6h0.9v0.9h-0.9zM166.1 407.1h0.9v0.9h-0.9zM170.9 394.5h0.9v0.9h-0.9zM170.9 397.7h0.9v0.9h-0.9zM175.7 405.8h0.9v0.9h-0.9zM167.2 406.3h0.9v0.9h-0.9zM166.0 405.0h0.9v0.9h-0.9zM171.9 401.4h0.9v0.9h-0.9zM163.5 400.8h0.9v0.9h-0.9zM159.9 399.8h0.9v0.9h-0.9zM161.7 406.1h0.9v0.9h-0.9zM165.4 393.3h0.9v0.9h-0.9zM172.0 403.1h0.9v0.9h-0.9zM172.7 402.0h0.9v0.9h-0.9zM166.8 391.5h0.9v0.9h-0.9zM171.5 405.2h0.9v0.9h-0.9zM167.0 396.9h0.9v0.9h-0.9zM169.3 395.9h0.9v0.9h-0.9zM169.5 404.5h0.9v0.9h-0.9zM175.8 402.7h0.9v0.9h-0.9zM170.3 404.4h0.9v0.9h-0.9zM175.4 400.7h0.9v0.9h-0.9zM164.3 399.0h0.9v0.9h-0.9zM164.2 398.7h0.9v0.9h-0.9zM169.0 403.0h0.9v0.9h-0.9zM170.2 402.0h0.9v0.9h-0.9zM168.0 403.3h0.9v0.9h-0.9zM173.2 404.5h0.9v0.9h-0.9zM175.8 400.8h0.9v0.9h-0.9zM168.4 407.7h0.9v0.9h-0.9zM170.3 403.2h0.9v0.9h-0.9zM168.1 405.2h0.9v0.9h-0.9zM167.8 398.3h0.9v0.9h-0.9zM169.2 400.3h0.9v0.9h-0.9zM173.0 400.5h0.9v0.9h-0.9zM170.0 401.0h0.9v0.9h-0.9zM170.9 399.6h0.9v0.9h-0.9zM174.1 396.8h0.9v0.9h-0.9zM167.9 399.3h0.9v0.9h-0.9zM172.2 401.9h0.9v0.9h-0.9zM171.5 400.6h0.9v0.9h-0.9zM166.5 397.9h0.9v0.9h-0.9zM168.1 399.9h0.9v0.9h-0.9zM170.7 403.0h0.9v0.9h-0.9zM173.6 401.4h0.9v0.9h-0.9zM166.4 398.1h0.9v0.9h-0.9zM169.8 403.1h0.9v0.9h-0.9zM177.7 402.4h0.9v0.9h-0.9zM176.9 408.4h0.9v0.9h-0.9zM165.1 406.0h0.9v0.9h-0.9zM174.3 406.5h0.9v0.9h-0.9zM169.5 405.1h0.9v0.9h-0.9zM167.5 401.6h0.9v0.9h-0.9zM169.6 408.0h0.9v0.9h-0.9zM168.6 405.1h0.9v0.9h-0.9zM169.8 399.3h0.9v0.9h-0.9zM170.5 404.1h0.9v0.9h-0.9zM166.5 404.0h0.9v0.9h-0.9zM166.5 398.7h0.9v0.9h-0.9zM170.4 401.0h0.9v0.9h-0.9zM165.4 396.1h0.9v0.9h-0.9zM169.6 402.7h0.9v0.9h-0.9zM167.6 402.5h0.9v0.9h-0.9zM163.1 403.2h0.9v0.9h-0.9zM171.2 402.8h0.9v0.9h-0.9zM166.9 402.1h0.9v0.9h-0.9zM170.0 405.5h0.9v0.9h-0.9zM170.7 402.7h0.9v0.9h-0.9zM166.5 404.8h0.9v0.9h-0.9zM174.4 400.1h0.9v0.9h-0.9zM172.2 402.9h0.9v0.9h-0.9zM169.3 397.3h0.9v0.9h-0.9zM176.9 395.3h0.9v0.9h-0.9zM170.8 400.5h0.9v0.9h-0.9zM174.3 400.3h0.9v0.9h-0.9zM169.7 403.9h0.9v0.9h-0.9zM171.4 400.0h0.9v0.9h-0.9zM172.4 403.2h0.9v0.9h-0.9zM173.6 400.0h0.9v0.9h-0.9zM169.3 400.4h0.9v0.9h-0.9zM166.0 402.7h0.9v0.9h-0.9zM171.2 406.8h0.9v0.9h-0.9zM168.1 403.2h0.9v0.9h-0.9zM174.3 401.4h0.9v0.9h-0.9zM169.8 402.3h0.9v0.9h-0.9zM166.6 398.3h0.9v0.9h-0.9zM174.2 402.4h0.9v0.9h-0.9zM169.2 397.5h0.9v0.9h-0.9zM170.0 405.9h0.9v0.9h-0.9zM164.7 398.7h0.9v0.9h-0.9zM174.1 406.8h0.9v0.9h-0.9zM176.0 399.9h0.9v0.9h-0.9zM172.0 399.2h0.9v0.9h-0.9zM171.7 400.5h0.9v0.9h-0.9zM170.3 406.5h0.9v0.9h-0.9zM170.9 401.0h0.9v0.9h-0.9zM169.7 402.7h0.9v0.9h-0.9zM167.4 402.5h0.9v0.9h-0.9zM172.0 407.2h0.9v0.9h-0.9zM160.9 397.7h0.9v0.9h-0.9zM164.3 404.8h0.9v0.9h-0.9zM179.7 402.5h0.9v0.9h-0.9zM170.0 405.8h0.9v0.9h-0.9zM159.3 401.2h0.9v0.9h-0.9zM156.5 402.3h0.9v0.9h-0.9zM167.4 400.1h0.9v0.9h-0.9zM170.9 399.8h0.9v0.9h-0.9zM174.1 401.8h0.9v0.9h-0.9zM167.6 405.0h0.9v0.9h-0.9zM166.1 406.1h0.9v0.9h-0.9zM173.5 402.3h0.9v0.9h-0.9zM173.6 407.4h0.9v0.9h-0.9zM175.2 401.8h0.9v0.9h-0.9zM169.3 405.6h0.9v0.9h-0.9zM163.4 399.7h0.9v0.9h-0.9zM171.5 403.8h0.9v0.9h-0.9zM177.3 407.9h0.9v0.9h-0.9zM170.9 403.3h0.9v0.9h-0.9zM164.0 401.2h0.9v0.9h-0.9zM170.6 401.0h0.9v0.9h-0.9zM169.8 403.9h0.9v0.9h-0.9zM165.5 399.8h0.9v0.9h-0.9zM162.1 405.8h0.9v0.9h-0.9zM165.1 395.9h0.9v0.9h-0.9zM172.7 401.1h0.9v0.9h-0.9zM173.5 400.5h0.9v0.9h-0.9zM178.3 404.3h0.9v0.9h-0.9zM170.1 402.2h0.9v0.9h-0.9zM168.6 404.6h0.9v0.9h-0.9zM177.8 400.3h0.9v0.9h-0.9zM165.0 403.9h0.9v0.9h-0.9zM173.9 396.6h0.9v0.9h-0.9zM166.6 398.4h0.9v0.9h-0.9zM171.8 403.5h0.9v0.9h-0.9zM166.5 397.9h0.9v0.9h-0.9zM172.3 394.7h0.9v0.9h-0.9zM172.2 401.3h0.9v0.9h-0.9zM177.5 405.2h0.9v0.9h-0.9zM167.1 400.9h0.9v0.9h-0.9zM168.4 399.3h0.9v0.9h-0.9zM169.8 405.1h0.9v0.9h-0.9zM163.3 401.0h0.9v0.9h-0.9zM175.7 404.4h0.9v0.9h-0.9zM166.1 399.0h0.9v0.9h-0.9zM166.0 396.3h0.9v0.9h-0.9zM174.3 402.0h0.9v0.9h-0.9zM166.6 396.9h0.9v0.9h-0.9zM167.9 400.0h0.9v0.9h-0.9zM176.6 400.2h0.9v0.9h-0.9zM170.0 405.5h0.9v0.9h-0.9zM172.3 401.2h0.9v0.9h-0.9zM160.5 406.6h0.9v0.9h-0.9zM172.0 400.3h0.9v0.9h-0.9zM169.1 398.5h0.9v0.9h-0.9zM165.8 396.7h0.9v0.9h-0.9zM171.6 403.6h0.9v0.9h-0.9zM170.2 404.5h0.9v0.9h-0.9zM171.7 402.2h0.9v0.9h-0.9zM165.9 403.8h0.9v0.9h-0.9zM174.4 404.0h0.9v0.9h-0.9zM174.7 400.2h0.9v0.9h-0.9zM165.5 406.1h0.9v0.9h-0.9zM167.1 402.6h0.9v0.9h-0.9zM168.7 401.9h0.9v0.9h-0.9zM168.4 399.9h0.9v0.9h-0.9zM162.1 408.3h0.9v0.9h-0.9zM170.3 395.2h0.9v0.9h-0.9zM165.8 397.9h0.9v0.9h-0.9zM166.4 393.0h0.9v0.9h-0.9zM171.9 407.4h0.9v0.9h-0.9zM168.5 404.4h0.9v0.9h-0.9zM172.0 397.5h0.9v0.9h-0.9zM174.5 396.0h0.9v0.9h-0.9zM167.1 400.6h0.9v0.9h-0.9zM174.7 402.2h0.9v0.9h-0.9zM169.0 399.0h0.9v0.9h-0.9zM169.9 401.9h0.9v0.9h-0.9zM172.5 406.6h0.9v0.9h-0.9zM172.5 401.9h0.9v0.9h-0.9zM168.9 407.3h0.9v0.9h-0.9zM170.3 401.7h0.9v0.9h-0.9zM176.9 407.2h0.9v0.9h-0.9zM171.8 401.4h0.9v0.9h-0.9zM166.9 405.5h0.9v0.9h-0.9zM167.6 405.1h0.9v0.9h-0.9zM166.3 402.2h0.9v0.9h-0.9zM171.2 402.3h0.9v0.9h-0.9zM170.5 403.1h0.9v0.9h-0.9zM164.9 398.0h0.9v0.9h-0.9zM168.9 408.0h0.9v0.9h-0.9zM169.0 398.6h0.9v0.9h-0.9zM166.8 401.9h0.9v0.9h-0.9zM174.4 399.9h0.9v0.9h-0.9zM171.8 402.4h0.9v0.9h-0.9zM168.0 398.6h0.9v0.9h-0.9zM168.9 399.3h0.9v0.9h-0.9zM171.7 395.8h0.9v0.9h-0.9zM174.1 404.4h0.9v0.9h-0.9zM171.9 406.9h0.9v0.9h-0.9zM172.0 396.0h0.9v0.9h-0.9zM169.7 403.3h0.9v0.9h-0.9zM166.7 397.9h0.9v0.9h-0.9zM171.3 403.5h0.9v0.9h-0.9zM167.8 401.0h0.9v0.9h-0.9zM167.4 399.9h0.9v0.9h-0.9zM169.3 405.5h0.9v0.9h-0.9zM162.9 400.6h0.9v0.9h-0.9zM176.1 402.9h0.9v0.9h-0.9zM170.1 404.7h0.9v0.9h-0.9zM165.4 397.7h0.9v0.9h-0.9zM162.7 396.8h0.9v0.9h-0.9zM170.5 404.7h0.9v0.9h-0.9zM167.8 399.5h0.9v0.9h-0.9zM171.2 403.9h0.9v0.9h-0.9zM170.6 395.3h0.9v0.9h-0.9zM167.3 393.2h0.9v0.9h-0.9zM170.5 398.9h0.9v0.9h-0.9zM166.8 406.9h0.9v0.9h-0.9zM174.9 403.4h0.9v0.9h-0.9zM170.6 402.4h0.9v0.9h-0.9zM167.1 401.6h0.9v0.9h-0.9zM177.3 398.8h0.9v0.9h-0.9zM166.8 402.4h0.9v0.9h-0.9zM173.1 404.6h0.9v0.9h-0.9zM165.5 401.4h0.9v0.9h-0.9zM168.4 397.6h0.9v0.9h-0.9zM169.8 400.2h0.9v0.9h-0.9zM173.3 403.3h0.9v0.9h-0.9zM166.3 402.1h0.9v0.9h-0.9zM168.0 399.6h0.9v0.9h-0.9zM167.5 405.4h0.9v0.9h-0.9zM167.8 396.0h0.9v0.9h-0.9zM166.3 404.5h0.9v0.9h-0.9zM178.3 398.2h0.9v0.9h-0.9zM168.0 400.7h0.9v0.9h-0.9zM163.8 403.2h0.9v0.9h-0.9zM169.3 402.8h0.9v0.9h-0.9zM178.6 400.9h0.9v0.9h-0.9zM172.7 404.6h0.9v0.9h-0.9zM166.9 399.8h0.9v0.9h-0.9zM175.9 404.2h0.9v0.9h-0.9zM170.1 398.1h0.9v0.9h-0.9zM173.1 403.6h0.9v0.9h-0.9zM178.5 406.8h0.9v0.9h-0.9zM172.8 402.7h0.9v0.9h-0.9zM169.8 399.9h0.9v0.9h-0.9zM170.8 402.6h0.9v0.9h-0.9zM172.2 405.5h0.9v0.9h-0.9zM170.8 400.0h0.9v0.9h-0.9zM172.8 407.1h0.9v0.9h-0.9zM166.1 403.2h0.9v0.9h-0.9zM171.7 403.6h0.9v0.9h-0.9zM171.6 401.5h0.9v0.9h-0.9zM169.1 407.5h0.9v0.9h-0.9zM176.6 397.0h0.9v0.9h-0.9zM159.1 403.3h0.9v0.9h-0.9zM166.7 400.0h0.9v0.9h-0.9zM163.0 403.0h0.9v0.9h-0.9zM169.3 400.0h0.9v0.9h-0.9zM175.5 405.8h0.9v0.9h-0.9zM167.8 404.0h0.9v0.9h-0.9zM169.3 405.7h0.9v0.9h-0.9zM171.9 401.7h0.9v0.9h-0.9zM171.8 399.4h0.9v0.9h-0.9zM172.7 406.9h0.9v0.9h-0.9zM168.0 403.7h0.9v0.9h-0.9zM162.7 405.0h0.9v0.9h-0.9zM173.1 398.3h0.9v0.9h-0.9zM176.6 402.2h0.9v0.9h-0.9zM162.4 397.1h0.9v0.9h-0.9zM173.1 400.9h0.9v0.9h-0.9zM174.0 396.5h0.9v0.9h-0.9zM169.1 405.1h0.9v0.9h-0.9zM166.7 404.1h0.9v0.9h-0.9zM168.0 403.0h0.9v0.9h-0.9zM164.4 404.5h0.9v0.9h-0.9zM174.9 398.0h0.9v0.9h-0.9zM173.8 391.7h0.9v0.9h-0.9zM168.5 396.0h0.9v0.9h-0.9zM170.7 399.3h0.9v0.9h-0.9zM167.2 399.0h0.9v0.9h-0.9zM170.7 400.2h0.9v0.9h-0.9zM165.8 401.0h0.9v0.9h-0.9zM171.2 398.9h0.9v0.9h-0.9zM174.0 396.2h0.9v0.9h-0.9zM171.2 400.5h0.9v0.9h-0.9zM175.9 399.6h0.9v0.9h-0.9zM166.8 397.2h0.9v0.9h-0.9zM177.6 403.9h0.9v0.9h-0.9zM165.1 400.7h0.9v0.9h-0.9zM165.6 407.0h0.9v0.9h-0.9zM171.2 394.9h0.9v0.9h-0.9zM170.4 404.9h0.9v0.9h-0.9zM169.5 403.4h0.9v0.9h-0.9zM169.1 402.5h0.9v0.9h-0.9zM170.4 399.4h0.9v0.9h-0.9zM170.9 402.4h0.9v0.9h-0.9zM169.3 399.5h0.9v0.9h-0.9zM165.4 402.6h0.9v0.9h-0.9zM172.9 393.6h0.9v0.9h-0.9zM167.3 406.4h0.9v0.9h-0.9zM173.2 399.4h0.9v0.9h-0.9zM175.0 398.4h0.9v0.9h-0.9zM166.3 408.4h0.9v0.9h-0.9zM167.7 401.1h0.9v0.9h-0.9zM162.8 398.4h0.9v0.9h-0.9zM164.7 401.3h0.9v0.9h-0.9zM162.0 405.4h0.9v0.9h-0.9zM168.0 399.7h0.9v0.9h-0.9zM166.9 404.3h0.9v0.9h-0.9zM175.8 400.4h0.9v0.9h-0.9zM176.1 407.3h0.9v0.9h-0.9zM175.0 402.8h0.9v0.9h-0.9zM163.4 404.1h0.9v0.9h-0.9zM167.8 402.5h0.9v0.9h-0.9zM161.8 400.8h0.9v0.9h-0.9zM170.5 398.6h0.9v0.9h-0.9zM170.7 407.5h0.9v0.9h-0.9zM170.4 399.5h0.9v0.9h-0.9zM179.2 394.5h0.9v0.9h-0.9zM165.7 403.2h0.9v0.9h-0.9zM167.1 394.0h0.9v0.9h-0.9zM170.6 404.6h0.9v0.9h-0.9zM166.3 406.8h0.9v0.9h-0.9zM171.5 405.9h0.9v0.9h-0.9zM163.3 401.8h0.9v0.9h-0.9zM176.0 408.7h0.9v0.9h-0.9zM174.9 401.8h0.9v0.9h-0.9zM170.2 399.7h0.9v0.9h-0.9zM174.0 399.4h0.9v0.9h-0.9zM170.0 394.8h0.9v0.9h-0.9zM163.3 407.9h0.9v0.9h-0.9zM169.7 402.5h0.9v0.9h-0.9zM160.5 401.7h0.9v0.9h-0.9zM178.0 396.7h0.9v0.9h-0.9zM159.8 401.2h0.9v0.9h-0.9zM167.3 401.1h0.9v0.9h-0.9zM164.4 397.2h0.9v0.9h-0.9zM164.4 404.0h0.9v0.9h-0.9zM169.3 404.6h0.9v0.9h-0.9zM165.1 403.8h0.9v0.9h-0.9zM167.7 402.1h0.9v0.9h-0.9zM173.3 401.9h0.9v0.9h-0.9zM168.1 396.1h0.9v0.9h-0.9zM169.8 404.5h0.9v0.9h-0.9zM166.9 401.6h0.9v0.9h-0.9zM162.2 397.2h0.9v0.9h-0.9zM171.2 406.2h0.9v0.9h-0.9zM168.2 396.1h0.9v0.9h-0.9zM167.9 396.4h0.9v0.9h-0.9zM168.4 408.4h0.9v0.9h-0.9zM170.7 401.3h0.9v0.9h-0.9zM173.8 400.5h0.9v0.9h-0.9zM170.9 402.5h0.9v0.9h-0.9zM171.3 396.8h0.9v0.9h-0.9zM172.4 404.8h0.9v0.9h-0.9zM160.1 392.5h0.9v0.9h-0.9zM165.8 406.9h0.9v0.9h-0.9zM169.6 404.1h0.9v0.9h-0.9zM171.8 404.9h0.9v0.9h-0.9zM166.9 399.8h0.9v0.9h-0.9zM171.1 403.9h0.9v0.9h-0.9zM171.9 403.0h0.9v0.9h-0.9zM167.5 405.6h0.9v0.9h-0.9zM171.4 405.5h0.9v0.9h-0.9zM159.0 405.3h0.9v0.9h-0.9zM159.4 402.5h0.9v0.9h-0.9zM166.8 402.2h0.9v0.9h-0.9zM167.5 400.7h0.9v0.9h-0.9zM170.3 403.0h0.9v0.9h-0.9zM166.2 393.1h0.9v0.9h-0.9z" fill="#5a5a5a" fill-opacity="0.85"/>
<path d="M173.6 401.7h0.8v0.8h-0.8zM173.5 401.1h0.8v0.8h-0.8zM174.5 394.4h0.8v0.8h-0.8zM177.8 407.2h0.8v0.8h-0.8zM175.1 398.8h0.8v0.8h-0.8zM177.4 392.5h0.8v0.8h-0.8zM173.4 404.6h0.8v0.8h-0.8zM177.3 396.6h0.8v0.8h-0.8zM173.6 400.7h0.8v0.8h-0.8zM172.2 396.5h0.8v0.8h-0.8zM174.8 386.8h0.8v0.8h-0.8zM176.6 402.8h0.8v0.8h-0.8zM177.6 391.9h0.8v0.8h-0.8zM172.5 395.0h0.8v0.8h-0.8zM172.5 409.2h0.8v0.8h-0.8zM173.2 397.5h0.8v0.8h-0.8zM175.7 401.3h0.8v0.8h-0.8zM178.5 393.6h0.8v0.8h-0.8zM177.2 399.7h0.8v0.8h-0.8zM172.7 399.7h0.8v0.8h-0.8zM172.2 407.0h0.8v0.8h-0.8zM173.7 404.0h0.8v0.8h-0.8zM178.1 395.9h0.8v0.8h-0.8zM173.3 399.6h0.8v0.8h-0.8zM173.0 403.5h0.8v0.8h-0.8zM175.7 395.2h0.8v0.8h-0.8zM173.8 402.6h0.8v0.8h-0.8zM172.1 407.4h0.8v0.8h-0.8zM173.6 398.0h0.8v0.8h-0.8zM173.3 407.1h0.8v0.8h-0.8zM177.1 405.5h0.8v0.8h-0.8zM176.7 399.4h0.8v0.8h-0.8zM179.0 402.3h0.8v0.8h-0.8zM176.3 401.9h0.8v0.8h-0.8zM176.9 400.4h0.8v0.8h-0.8zM174.9 391.1h0.8v0.8h-0.8zM179.8 392.5h0.8v0.8h-0.8zM170.6 395.5h0.8v0.8h-0.8zM179.5 405.1h0.8v0.8h-0.8zM174.0 400.3h0.8v0.8h-0.8z" fill="#bbb" fill-opacity="0.8"/>
<line x1="141.85" y1="343.00" x2="208.75" y2="343.00" stroke="#787878" stroke-width="0.9"/>
<line x1="208.30" y1="343.00" x2="208.30" y2="410.20" stroke="#787878" stroke-width="0.9"/>
<line x1="142.30" y1="343.00" x2="142.30" y2="410.20" stroke="#8c8c8c" stroke-width="0.9"/>
<line x1="141.85" y1="410.20" x2="208.75" y2="410.20" stroke="#8c8c8c" stroke-width="0.9"/>
<line x1="145.30" y1="410.20" x2="145.30" y2="409.30" stroke="#999" stroke-width="0.5"/>
<line x1="148.30" y1="410.20" x2="148.30" y2="409.30" stroke="#999" stroke-width="0.5"/>
<line x1="151.30" y1="410.20" x2="151.30" y2="409.30" stroke="#999" stroke-width="0.5"/>
<line x1="154.30" y1="410.20" x2="154.30" y2="409.30" stroke="#999" stroke-width="0.5"/>
<line x1="157.30" y1="410.20" x2="157.30" y2="408.60" stroke="#999" stroke-width="0.5"/>
<line x1="160.30" y1="410.20" x2="160.30" y2="409.30" stroke="#999" stroke-width="0.5"/>
<line x1="163.30" y1="410.20" x2="163.30" y2="409.30" stroke="#999" stroke-width="0.5"/>
<line x1="166.30" y1="410.20" x2="166.30" y2="409.30" stroke="#999" stroke-width="0.5"/>
<line x1="169.30" y1="410.20" x2="169.30" y2="409.30" stroke="#999" stroke-width="0.5"/>
<line x1="172.30" y1="410.20" x2="172.30" y2="408.60" stroke="#999" stroke-width="0.5"/>
<line x1="175.30" y1="410.20" x2="175.30" y2="409.30" stroke="#999" stroke-width="0.5"/>
<line x1="178.30" y1="410.20" x2="178.30" y2="409.30" stroke="#999" stroke-width="0.5"/>
<line x1="181.30" y1="410.20" x2="181.30" y2="409.30" stroke="#999" stroke-width="0.5"/>
<line x1="184.30" y1="410.20" x2="184.30" y2="409.30" stroke="#999" stroke-width="0.5"/>
<line x1="187.30" y1="410.20" x2="187.30" y2="408.60" stroke="#999" stroke-width="0.5"/>
<line x1="190.30" y1="410.20" x2="190.30" y2="409.30" stroke="#999" stroke-width="0.5"/>
<line x1="193.30" y1="410.20" x2="193.30" y2="409.30" stroke="#999" stroke-width="0.5"/>
<line x1="196.30" y1="410.20" x2="196.30" y2="409.30" stroke="#999" stroke-width="0.5"/>
<line x1="199.30" y1="410.20" x2="199.30" y2="409.30" stroke="#999" stroke-width="0.5"/>
<line x1="202.30" y1="410.20" x2="202.30" y2="408.60" stroke="#999" stroke-width="0.5"/>
<line x1="205.30" y1="410.20" x2="205.30" y2="409.30" stroke="#999" stroke-width="0.5"/>
<line x1="156.80" y1="343.00" x2="156.80" y2="410.20" stroke="#787878" stroke-width="0.9"/>
<line x1="142.30" y1="394.40" x2="208.30" y2="394.40" stroke="#787878" stroke-width="0.9"/>
<line x1="142.30" y1="346.05" x2="143.20" y2="346.05" stroke="#999" stroke-width="0.5"/>
<line x1="142.30" y1="349.11" x2="143.20" y2="349.11" stroke="#999" stroke-width="0.5"/>
<line x1="142.30" y1="352.16" x2="143.20" y2="352.16" stroke="#999" stroke-width="0.5"/>
<line x1="142.30" y1="355.22" x2="143.20" y2="355.22" stroke="#999" stroke-width="0.5"/>
<line x1="142.30" y1="358.27" x2="143.90" y2="358.27" stroke="#999" stroke-width="0.5"/>
<line x1="142.30" y1="361.33" x2="143.20" y2="361.33" stroke="#999" stroke-width="0.5"/>
<line x1="142.30" y1="364.38" x2="143.20" y2="364.38" stroke="#999" stroke-width="0.5"/>
<line x1="142.30" y1="367.44" x2="143.20" y2="367.44" stroke="#999" stroke-width="0.5"/>
<line x1="142.30" y1="370.49" x2="143.20" y2="370.49" stroke="#999" stroke-width="0.5"/>
<line x1="142.30" y1="373.55" x2="143.90" y2="373.55" stroke="#999" stroke-width="0.5"/>
<line x1="142.30" y1="376.60" x2="143.20" y2="376.60" stroke="#999" stroke-width="0.5"/>
<line x1="142.30" y1="379.65" x2="143.20" y2="379.65" stroke="#999" stroke-width="0.5"/>
<line x1="142.30" y1="382.71" x2="143.20" y2="382.71" stroke="#999" stroke-width="0.5"/>
<line x1="142.30" y1="385.76" x2="143.20" y2="385.76" stroke="#999" stroke-width="0.5"/>
<line x1="142.30" y1="388.82" x2="143.90" y2="388.82" stroke="#999" stroke-width="0.5"/>
<line x1="142.30" y1="391.87" x2="143.20" y2="391.87" stroke="#999" stroke-width="0.5"/>
<line x1="142.30" y1="394.93" x2="143.20" y2="394.93" stroke="#999" stroke-width="0.5"/>
<line x1="142.30" y1="397.98" x2="143.20" y2="397.98" stroke="#999" stroke-width="0.5"/>
<line x1="142.30" y1="401.04" x2="143.20" y2="401.04" stroke="#999" stroke-width="0.5"/>
<line x1="142.30" y1="404.09" x2="143.90" y2="404.09" stroke="#999" stroke-width="0.5"/>
<line x1="142.30" y1="407.15" x2="143.20" y2="407.15" stroke="#999" stroke-width="0.5"/>
<text x="206.30" y="353.30" font-size="10" text-anchor="end" fill="#000">14.6</text>
<defs><marker id="ah" viewBox="0 0 10 10" refX="2" refY="5" markerWidth="7" markerHeight="7" markerUnits="userSpaceOnUse" orient="auto"><path d="M0 0.8 L10 5 L0 9.2 z" fill="#000"/></marker></defs>
<line x1="57.10" y1="358.80" x2="57.10" y2="266.80" stroke="#000" stroke-width="1.1" marker-end="url(#ah)"/>
<line x1="93.00" y1="333.60" x2="210.50" y2="333.60" stroke="#000" stroke-width="1.1" marker-end="url(#ah)"/>
<line x1="95.00" y1="423.20" x2="209.50" y2="423.20" stroke="#000" stroke-width="1.1" marker-end="url(#ah)"/>
<text x="62.80" y="338.60" font-size="12.4" text-anchor="start" fill="#000">CD4</text>
<text x="64.20" y="428.40" font-size="12.5" text-anchor="start" font-weight="bold" fill="#000">CD8</text>
<text x="58.70" y="387.30" font-size="12.3" text-anchor="middle" font-weight="bold" transform="rotate(-90 58.70 387.30)" fill="#000">IFN-&#947;</text>
</g>
<g id="panelC">
<text x="255.00" y="235.70" font-size="17.5" text-anchor="start" font-weight="bold" fill="#000">C</text>
<line x1="310.90" y1="255.90" x2="310.90" y2="391.50" stroke="#cbcbcb" stroke-width="1"/>
<text x="303.80" y="394.20" font-size="9.4" text-anchor="end" fill="#000">0</text>
<line x1="307.90" y1="357.60" x2="310.90" y2="357.60" stroke="#cbcbcb" stroke-width="1"/>
<text x="303.80" y="360.30" font-size="9.4" text-anchor="end" fill="#000">100</text>
<line x1="307.90" y1="323.70" x2="310.90" y2="323.70" stroke="#cbcbcb" stroke-width="1"/>
<text x="303.80" y="326.40" font-size="9.4" text-anchor="end" fill="#000">200</text>
<line x1="307.90" y1="289.80" x2="310.90" y2="289.80" stroke="#cbcbcb" stroke-width="1"/>
<text x="303.80" y="292.50" font-size="9.4" text-anchor="end" fill="#000">300</text>
<line x1="307.90" y1="255.90" x2="310.90" y2="255.90" stroke="#cbcbcb" stroke-width="1"/>
<text x="303.80" y="258.60" font-size="9.4" text-anchor="end" fill="#000">400</text>
<line x1="307.50" y1="391.50" x2="444.60" y2="391.50" stroke="#000" stroke-width="1.2"/>
<rect x="316.80" y="380.13" width="7.70" height="11.36" fill="#fff" stroke="#000" stroke-width="1"/>
<rect x="324.50" y="282.68" width="7.60" height="108.82" fill="#000"/>
<text x="334.60" y="426.40" font-size="13" text-anchor="middle" transform="rotate(-90 334.60 426.40)" fill="#000">T2</text>
<rect x="343.10" y="376.41" width="7.70" height="15.09" fill="#fff" stroke="#000" stroke-width="1"/>
<rect x="350.80" y="314.89" width="7.60" height="76.61" fill="#000"/>
<text x="360.20" y="424.20" font-size="13" text-anchor="middle" transform="rotate(-90 360.20 424.20)" fill="#000">IHW1003</text>
<rect x="369.40" y="372.34" width="7.70" height="19.16" fill="#fff" stroke="#000" stroke-width="1"/>
<rect x="377.10" y="357.94" width="7.60" height="33.56" fill="#000"/>
<text x="385.60" y="424.20" font-size="13" text-anchor="middle" transform="rotate(-90 385.60 424.20)" fill="#000">IHW1019</text>
<rect x="395.70" y="360.30" width="7.70" height="31.20" fill="#fff" stroke="#000" stroke-width="1"/>
<rect x="403.40" y="364.72" width="7.60" height="26.78" fill="#000"/>
<text x="410.80" y="424.20" font-size="13" text-anchor="middle" transform="rotate(-90 410.80 424.20)" fill="#000">IHW1089</text>
<rect x="422.00" y="386.24" width="7.70" height="5.26" fill="#fff" stroke="#000" stroke-width="1"/>
<rect x="429.70" y="381.33" width="7.60" height="10.17" fill="#000"/>
<text x="436.40" y="424.20" font-size="13" text-anchor="middle" transform="rotate(-90 436.40 424.20)" fill="#000">IHW1135</text>
<text x="278.40" y="317.00" font-size="12.4" text-anchor="middle" font-weight="bold" transform="rotate(-90 278.40 317.00)" fill="#000">IFN-&#947;&#160; (pg/ml)</text>
<rect x="370.50" y="250.80" width="9.00" height="8.20" fill="#000"/>
<text x="388" y="257" font-size="10.6">TCL1<tspan font-size="7.6" dy="3.2">65-79</tspan></text>
<rect x="372.40" y="269.30" width="7.80" height="7.40" fill="#fff" stroke="#000" stroke-width="1"/>
<text x="390.6" y="277" font-size="10.6">Gag<tspan font-size="7.6" dy="3.2">77-85</tspan></text>
<rect x="415.80" y="287.30" width="99.60" height="70.60" fill="#fff" stroke="#222" stroke-width="1.1"/>
<line x1="415.80" y1="299.20" x2="515.40" y2="299.20" stroke="#333" stroke-width="0.9"/>
<line x1="415.80" y1="311.00" x2="515.40" y2="311.00" stroke="#333" stroke-width="0.9"/>
<line x1="415.80" y1="322.90" x2="515.40" y2="322.90" stroke="#333" stroke-width="0.9"/>
<line x1="415.80" y1="334.50" x2="515.40" y2="334.50" stroke="#333" stroke-width="0.9"/>
<line x1="415.80" y1="346.30" x2="515.40" y2="346.30" stroke="#333" stroke-width="0.9"/>
<line x1="460.00" y1="287.30" x2="460.00" y2="357.90" stroke="#333" stroke-width="0.9"/>
<text x="488.00" y="296.60" font-size="9.3" text-anchor="middle" font-weight="bold" fill="#000" letter-spacing="-0.3">HLA-A allele</text>
<text transform="translate(438.20 308.80) scale(0.87 1)" x="0" y="0" font-size="10.2" text-anchor="middle">T2</text>
<text transform="translate(488.00 308.80) scale(0.87 1)" x="0" y="0" font-size="10.2" text-anchor="middle">201/201</text>
<text transform="translate(438.20 320.60) scale(0.87 1)" x="0" y="0" font-size="10.2" text-anchor="middle">IHW1003</text>
<text transform="translate(488.00 320.60) scale(0.87 1)" x="0" y="0" font-size="10.2" text-anchor="middle">201/A24</text>
<text transform="translate(438.20 332.50) scale(0.87 1)" x="0" y="0" font-size="10.2" text-anchor="middle">IHW1019</text>
<text transform="translate(488.00 332.50) scale(0.87 1)" x="0" y="0" font-size="10.2" text-anchor="middle">301/301</text>
<text transform="translate(438.20 344.10) scale(0.87 1)" x="0" y="0" font-size="10.2" text-anchor="middle">IHW1089</text>
<text transform="translate(488.00 344.10) scale(0.87 1)" x="0" y="0" font-size="10.2" text-anchor="middle">101/205</text>
<text transform="translate(438.20 355.90) scale(0.87 1)" x="0" y="0" font-size="10.2" text-anchor="middle">IHW1135</text>
<text transform="translate(488.00 355.90) scale(0.87 1)" x="0" y="0" font-size="10.2" text-anchor="middle">101/101</text>
</g>
<g id="panelD">
<text x="11.00" y="467.20" font-size="17.5" text-anchor="start" font-weight="bold" fill="#000">D</text>
<line x1="96.30" y1="530.80" x2="96.30" y2="629.90" stroke="#cbcbcb" stroke-width="1"/>
<line x1="93.30" y1="629.90" x2="96.30" y2="629.90" stroke="#cbcbcb" stroke-width="1"/>
<text x="88.60" y="633.50" font-size="11.3" text-anchor="end" fill="#000">0</text>
<line x1="93.30" y1="610.08" x2="96.30" y2="610.08" stroke="#cbcbcb" stroke-width="1"/>
<text x="88.60" y="613.68" font-size="11.3" text-anchor="end" fill="#000">20</text>
<line x1="93.30" y1="590.26" x2="96.30" y2="590.26" stroke="#cbcbcb" stroke-width="1"/>
<text x="88.60" y="593.86" font-size="11.3" text-anchor="end" fill="#000">40</text>
<line x1="93.30" y1="570.44" x2="96.30" y2="570.44" stroke="#cbcbcb" stroke-width="1"/>
<text x="88.60" y="574.04" font-size="11.3" text-anchor="end" fill="#000">60</text>
<line x1="93.30" y1="550.62" x2="96.30" y2="550.62" stroke="#cbcbcb" stroke-width="1"/>
<text x="88.60" y="554.22" font-size="11.3" text-anchor="end" fill="#000">80</text>
<line x1="93.30" y1="530.80" x2="96.30" y2="530.80" stroke="#cbcbcb" stroke-width="1"/>
<text x="88.60" y="534.40" font-size="11.3" text-anchor="end" fill="#000">100</text>
<line x1="96.30" y1="629.90" x2="194.00" y2="629.90" stroke="#cbcbcb" stroke-width="1"/>
<line x1="96.30" y1="629.90" x2="96.30" y2="632.50" stroke="#cbcbcb" stroke-width="1"/>
<line x1="128.86" y1="629.90" x2="128.86" y2="632.50" stroke="#cbcbcb" stroke-width="1"/>
<line x1="161.42" y1="629.90" x2="161.42" y2="632.50" stroke="#cbcbcb" stroke-width="1"/>
<line x1="193.98" y1="629.90" x2="193.98" y2="632.50" stroke="#cbcbcb" stroke-width="1"/>
<text x="112.90" y="649.30" font-size="11.3" text-anchor="middle" fill="#000">20:1</text>
<text x="145.30" y="649.30" font-size="11.3" text-anchor="middle" fill="#000">10:1</text>
<text x="178.10" y="649.30" font-size="11.3" text-anchor="middle" fill="#000">5:1</text>
<polyline points="113.2,540.7 145.6,544.7 178.4,560.5" fill="none" stroke="#000" stroke-width="1.3"/>
<line x1="178.40" y1="556.13" x2="178.40" y2="564.93" stroke="#000" stroke-width="1"/>
<line x1="174.60" y1="556.13" x2="182.20" y2="556.13" stroke="#000" stroke-width="1.1"/>
<line x1="174.60" y1="564.93" x2="182.20" y2="564.93" stroke="#000" stroke-width="1.1"/>
<path d="M108.0 540.7L113.2 536.5L118.4 540.7L113.2 544.9z" fill="#000"/>
<path d="M140.4 544.7L145.6 540.5L150.8 544.7L145.6 548.9z" fill="#000"/>
<path d="M173.2 560.5L178.4 556.3L183.6 560.5L178.4 564.7z" fill="#000"/>
<polyline points="113.2,620.7 145.6,623.0 178.4,625.1" fill="none" stroke="#000" stroke-width="1.5" stroke-dasharray="13 6"/>
<polyline points="113.2,622.0 145.6,623.8 178.4,625.9" fill="none" stroke="#000" stroke-width="1.4" stroke-dasharray="5 4"/>
<rect x="109.10" y="616.38" width="8.20" height="8.20" fill="#fff" stroke="#000" stroke-width="1.2"/>
<rect x="141.50" y="618.66" width="8.20" height="8.20" fill="#fff" stroke="#000" stroke-width="1.2"/>
<rect x="174.30" y="620.84" width="8.20" height="8.20" fill="#fff" stroke="#000" stroke-width="1.2"/>
<path d="M109.3 625.0L113.2 617.4L117.1 625.0z" fill="#fff" stroke="#000" stroke-width="1"/>
<path d="M141.7 626.8L145.6 619.2L149.5 626.8z" fill="#fff" stroke="#000" stroke-width="1"/>
<path d="M174.5 628.9L178.4 621.3L182.3 628.9z" fill="#fff" stroke="#000" stroke-width="1"/>
<text x="52.60" y="567.80" font-size="12.9" text-anchor="middle" font-weight="bold" transform="rotate(-90 52.60 567.80)" fill="#000">Specific lysis (%)</text>
<text x="149.30" y="677.30" font-size="13" text-anchor="middle" font-weight="bold" fill="#000">Effector : Target ratio</text>
<line x1="145.50" y1="481.80" x2="182.50" y2="481.80" stroke="#000" stroke-width="1.5"/>
<path d="M160 481.8L164.3 478.2L168.6 481.8L164.3 485.4z" fill="#000"/>
<text x="183.6" y="484.7" font-size="10.6">T2+TCL1<tspan font-size="8" dy="2.6">65-79</tspan></text>
<line x1="145.50" y1="495.00" x2="177.50" y2="495.00" stroke="#000" stroke-width="1.5"/>
<rect x="159.90" y="491.60" width="6.80" height="6.80" fill="#fff" stroke="#000" stroke-width="1.1"/>
<text x="186.2" y="498.2" font-size="10.5">T2+Gag<tspan font-size="8" dy="2.6">77-85</tspan></text>
<line x1="146.20" y1="508.30" x2="149.00" y2="508.30" stroke="#000" stroke-width="1.8"/>
<line x1="156.20" y1="508.30" x2="160.00" y2="508.30" stroke="#000" stroke-width="1.8"/>
<line x1="167.60" y1="508.30" x2="170.60" y2="508.30" stroke="#000" stroke-width="1.8"/>
<line x1="178.70" y1="508.30" x2="182.00" y2="508.30" stroke="#000" stroke-width="1.8"/>
<path d="M160.3 511.4L163.8 504.4L167.3 511.4z" fill="#fff" stroke="#000" stroke-width="1"/>
<text x="184.40" y="511.40" font-size="10.7" text-anchor="start" fill="#000">T2 alone</text>
</g>
<g id="panelE">
<text x="262.00" y="460.20" font-size="17.5" text-anchor="start" font-weight="bold" fill="#000">E</text>
<line x1="334.40" y1="505.80" x2="334.40" y2="622.80" stroke="#cbcbcb" stroke-width="1"/>
<text x="325.20" y="626.60" font-size="10.9" text-anchor="end" fill="#000">0</text>
<line x1="331.40" y1="599.40" x2="334.40" y2="599.40" stroke="#cbcbcb" stroke-width="1"/>
<text x="325.20" y="603.20" font-size="10.9" text-anchor="end" fill="#000">20</text>
<line x1="331.40" y1="576.00" x2="334.40" y2="576.00" stroke="#cbcbcb" stroke-width="1"/>
<text x="325.20" y="579.80" font-size="10.9" text-anchor="end" fill="#000">40</text>
<line x1="331.40" y1="552.60" x2="334.40" y2="552.60" stroke="#cbcbcb" stroke-width="1"/>
<text x="325.20" y="556.40" font-size="10.9" text-anchor="end" fill="#000">60</text>
<line x1="331.40" y1="529.20" x2="334.40" y2="529.20" stroke="#cbcbcb" stroke-width="1"/>
<text x="325.20" y="533.00" font-size="10.9" text-anchor="end" fill="#000">80</text>
<line x1="331.40" y1="505.80" x2="334.40" y2="505.80" stroke="#cbcbcb" stroke-width="1"/>
<text x="325.20" y="509.60" font-size="10.9" text-anchor="end" fill="#000">100</text>
<line x1="346.00" y1="513.52" x2="346.00" y2="519.84" stroke="#555" stroke-width="0.9"/>
<line x1="343.30" y1="513.52" x2="348.70" y2="513.52" stroke="#555" stroke-width="1.0"/>
<rect x="340.90" y="519.84" width="10.20" height="102.96" fill="#000"/>
<text transform="translate(349.40 626.2) rotate(-90) scale(1.085 1)" x="0" y="0" font-size="12" text-anchor="end">No Ab</text>
<line x1="370.18" y1="603.61" x2="370.18" y2="609.23" stroke="#555" stroke-width="0.9"/>
<line x1="367.48" y1="603.61" x2="372.88" y2="603.61" stroke="#555" stroke-width="1.0"/>
<rect x="365.08" y="609.23" width="10.20" height="13.57" fill="#000"/>
<text transform="translate(373.58 626.2) rotate(-90) scale(1.085 1)" x="0" y="0" font-size="12" text-anchor="end">MHC I Ab</text>
<line x1="394.36" y1="524.52" x2="394.36" y2="538.09" stroke="#555" stroke-width="0.9"/>
<line x1="391.66" y1="524.52" x2="397.06" y2="524.52" stroke="#555" stroke-width="1.0"/>
<rect x="389.26" y="538.09" width="10.20" height="84.71" fill="#000"/>
<text transform="translate(397.76 626.2) rotate(-90) scale(1.085 1)" x="0" y="0" font-size="12" text-anchor="end">MHC II Ab</text>
<line x1="418.54" y1="513.99" x2="418.54" y2="529.20" stroke="#555" stroke-width="0.9"/>
<line x1="415.84" y1="513.99" x2="421.24" y2="513.99" stroke="#555" stroke-width="1.0"/>
<rect x="413.44" y="529.20" width="10.20" height="93.60" fill="#000"/>
<text transform="translate(421.94 626.2) rotate(-90) scale(1.085 1)" x="0" y="0" font-size="12" text-anchor="end">Isotype&#160; Ab</text>
<line x1="442.72" y1="571.67" x2="442.72" y2="576.35" stroke="#555" stroke-width="0.9"/>
<line x1="440.02" y1="571.67" x2="445.42" y2="571.67" stroke="#555" stroke-width="1.0"/>
<rect x="437.62" y="576.35" width="10.20" height="46.45" fill="#000"/>
<text transform="translate(446.12 626.2) rotate(-90) scale(1.085 1)" x="0" y="0" font-size="12" text-anchor="end">HLA-A2 Ab</text>
<line x1="466.90" y1="519.84" x2="466.90" y2="529.78" stroke="#555" stroke-width="0.9"/>
<line x1="464.20" y1="519.84" x2="469.60" y2="519.84" stroke="#555" stroke-width="1.0"/>
<rect x="461.80" y="529.78" width="10.20" height="93.02" fill="#000"/>
<text transform="translate(470.30 626.2) rotate(-90) scale(1.085 1)" x="0" y="0" font-size="12" text-anchor="end">HLA-B+C Ab</text>
<line x1="331.80" y1="623.00" x2="480.00" y2="623.00" stroke="#000" stroke-width="1.8"/>
<text x="297.20" y="564.00" font-size="12.8" text-anchor="middle" font-weight="bold" transform="rotate(-90 297.20 564.00)" fill="#000">Specific lysis (%)</text>
</g>
</svg>
</body>
</html>
